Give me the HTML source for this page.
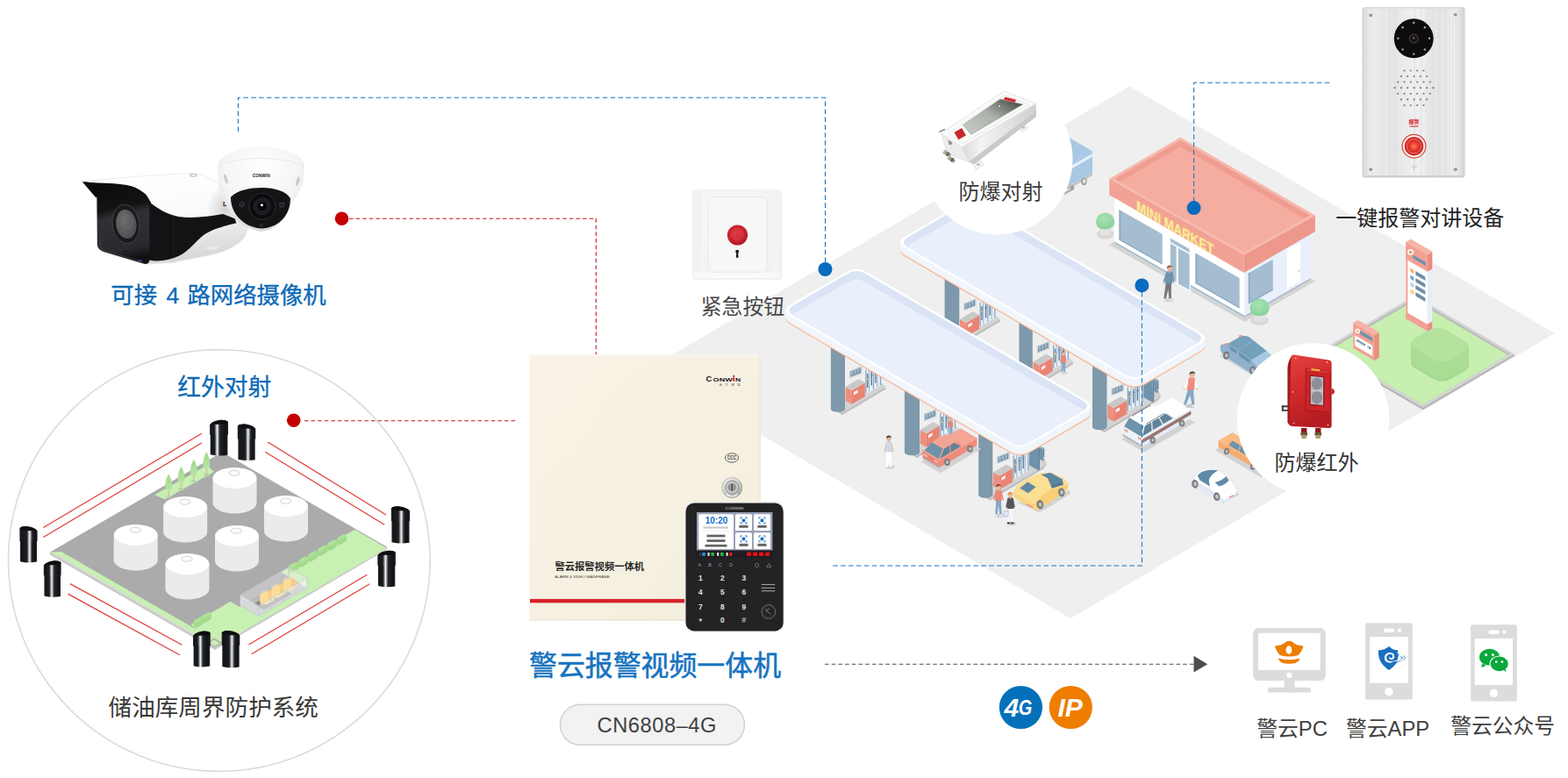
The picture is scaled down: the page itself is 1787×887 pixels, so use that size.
<!DOCTYPE html>
<html lang="zh-CN"><head><meta charset="utf-8"><title>警云报警视频一体机 CN6808-4G</title>
<style>
html,body{margin:0;padding:0;background:#fff}
body{width:1787px;height:887px;overflow:hidden;position:relative;font-family:"Liberation Sans","Noto Sans CJK SC",sans-serif}
svg{position:absolute;left:0;top:0;display:block}
svg text{font-family:"Liberation Sans","Noto Sans CJK SC",sans-serif}
</style></head><body>
<svg width="1787" height="887" viewBox="0 0 1787 887" role="img" aria-label="警云报警视频一体机"><defs><clipPath id="lawnc"><polygon points="1512.4,398 1612.4,340.1 1720.4,403.4 1621.6,461.5"/></clipPath><radialGradient id="bg1259" cx="0.45" cy="0.35" r="0.7"><stop offset="0" stop-color="#a7e3b4"/><stop offset="1" stop-color="#86cf98"/></radialGradient><clipPath id="mroof"><polygon points="1270.5,203.8 1345.3,160 1492.7,245.6 1417.7,286.9"/></clipPath><radialGradient id="bg1435" cx="0.45" cy="0.35" r="0.7"><stop offset="0" stop-color="#a7e3b4"/><stop offset="1" stop-color="#86cf98"/></radialGradient><clipPath id="cp1020"><path d="M1035.1 270.2L1095.7 234.7Q1106 228.7 1116.3 234.7L1363.9 379.6Q1374.2 385.6 1363.9 391.6L1303.3 427.1Q1293 433.1 1282.7 427.1L1035.1 282.2Q1024.8 276.2 1035.1 270.2Z"/></clipPath><clipPath id="cp889"><path d="M904.7 347.8L965.8 312Q976.1 306 986.4 312L1233.7 456.7Q1244 462.7 1233.7 468.8L1172.6 504.5Q1162.3 510.5 1152 504.5L904.7 359.8Q894.4 353.8 904.7 347.8Z"/></clipPath><linearGradient id="bw" x1="0" y1="0" x2="0.25" y2="1"><stop offset="0" stop-color="#ffffff"/><stop offset="0.55" stop-color="#fbfbfb"/><stop offset="1" stop-color="#d9d9dc"/></linearGradient><linearGradient id="bk" x1="0.1" y1="0" x2="0.25" y2="1"><stop offset="0" stop-color="#0c0c0e"/><stop offset="0.3" stop-color="#131315"/><stop offset="0.42" stop-color="#313135"/><stop offset="0.85" stop-color="#2a2a2e"/><stop offset="1" stop-color="#111113"/></linearGradient><radialGradient id="lens" cx="0.4" cy="0.35" r="0.8"><stop offset="0" stop-color="#6e6e70"/><stop offset="1" stop-color="#48484a"/></radialGradient><radialGradient id="dsh"><stop offset="0" stop-color="#000" stop-opacity="0.16"/><stop offset="1" stop-color="#000" stop-opacity="0"/></radialGradient><radialGradient id="dm" cx="0.5" cy="0.28" r="0.75"><stop offset="0" stop-color="#ffffff"/><stop offset="0.6" stop-color="#f4f4f4"/><stop offset="1" stop-color="#d4d4d6"/></radialGradient><linearGradient id="tr" x1="0" y1="0" x2="0" y2="1"><stop offset="0" stop-color="#9fd98a"/><stop offset="1" stop-color="#b7e6a3"/></linearGradient><linearGradient id="sg0" x1="0" y1="0" x2="1" y2="0"><stop offset="0" stop-color="#24272c"/><stop offset="0.08" stop-color="#141518"/><stop offset="0.41" stop-color="#1c1e22"/><stop offset="0.56" stop-color="#f2f4f6"/><stop offset="0.71" stop-color="#23262b"/><stop offset="0.85" stop-color="#101113"/><stop offset="1" stop-color="#1f2126"/></linearGradient><linearGradient id="sg1" x1="0" y1="0" x2="1" y2="0"><stop offset="0" stop-color="#24272c"/><stop offset="0.08" stop-color="#141518"/><stop offset="0.31" stop-color="#1c1e22"/><stop offset="0.46" stop-color="#f2f4f6"/><stop offset="0.61" stop-color="#23262b"/><stop offset="0.85" stop-color="#101113"/><stop offset="1" stop-color="#1f2126"/></linearGradient><linearGradient id="sg2" x1="0" y1="0" x2="1" y2="0"><stop offset="0" stop-color="#24272c"/><stop offset="0.08" stop-color="#141518"/><stop offset="0.25" stop-color="#1c1e22"/><stop offset="0.40" stop-color="#f2f4f6"/><stop offset="0.55" stop-color="#23262b"/><stop offset="0.85" stop-color="#101113"/><stop offset="1" stop-color="#1f2126"/></linearGradient><linearGradient id="sg3" x1="0" y1="0" x2="1" y2="0"><stop offset="0" stop-color="#24272c"/><stop offset="0.08" stop-color="#141518"/><stop offset="0.43" stop-color="#1c1e22"/><stop offset="0.58" stop-color="#f2f4f6"/><stop offset="0.73" stop-color="#23262b"/><stop offset="0.85" stop-color="#101113"/><stop offset="1" stop-color="#1f2126"/></linearGradient><linearGradient id="sg4" x1="0" y1="0" x2="1" y2="0"><stop offset="0" stop-color="#24272c"/><stop offset="0.08" stop-color="#141518"/><stop offset="0.39" stop-color="#1c1e22"/><stop offset="0.54" stop-color="#f2f4f6"/><stop offset="0.69" stop-color="#23262b"/><stop offset="0.85" stop-color="#101113"/><stop offset="1" stop-color="#1f2126"/></linearGradient><linearGradient id="sg5" x1="0" y1="0" x2="1" y2="0"><stop offset="0" stop-color="#24272c"/><stop offset="0.08" stop-color="#141518"/><stop offset="0.29" stop-color="#1c1e22"/><stop offset="0.44" stop-color="#f2f4f6"/><stop offset="0.59" stop-color="#23262b"/><stop offset="0.85" stop-color="#101113"/><stop offset="1" stop-color="#1f2126"/></linearGradient><linearGradient id="sg6" x1="0" y1="0" x2="1" y2="0"><stop offset="0" stop-color="#24272c"/><stop offset="0.08" stop-color="#141518"/><stop offset="0.27" stop-color="#1c1e22"/><stop offset="0.42" stop-color="#f2f4f6"/><stop offset="0.57" stop-color="#23262b"/><stop offset="0.85" stop-color="#101113"/><stop offset="1" stop-color="#1f2126"/></linearGradient><linearGradient id="sg7" x1="0" y1="0" x2="1" y2="0"><stop offset="0" stop-color="#24272c"/><stop offset="0.08" stop-color="#141518"/><stop offset="0.41" stop-color="#1c1e22"/><stop offset="0.56" stop-color="#f2f4f6"/><stop offset="0.71" stop-color="#23262b"/><stop offset="0.85" stop-color="#101113"/><stop offset="1" stop-color="#1f2126"/></linearGradient><linearGradient id="pn" x1="0" y1="0" x2="1" y2="1"><stop offset="0" stop-color="#f8f3e6"/><stop offset="1" stop-color="#f4eedd"/></linearGradient><radialGradient id="lk" cx="0.4" cy="0.35" r="0.7"><stop offset="0" stop-color="#ffffff"/><stop offset="0.6" stop-color="#d4d4d4"/><stop offset="1" stop-color="#8f8f8f"/></radialGradient><linearGradient id="eb" x1="0" y1="0" x2="1" y2="1"><stop offset="0" stop-color="#f7f7f7"/><stop offset="1" stop-color="#f0f0f0"/></linearGradient><radialGradient id="rb" cx="0.45" cy="0.4" r="0.65"><stop offset="0" stop-color="#dc3a44"/><stop offset="0.7" stop-color="#c51f2b"/><stop offset="1" stop-color="#a81622"/></radialGradient><linearGradient id="ic" x1="0" y1="0" x2="1" y2="0"><stop offset="0" stop-color="#d9d9d9"/><stop offset="0.08" stop-color="#ececec"/><stop offset="0.3" stop-color="#e4e4e4"/><stop offset="0.5" stop-color="#efefef"/><stop offset="0.72" stop-color="#e2e2e2"/><stop offset="0.92" stop-color="#ebebeb"/><stop offset="1" stop-color="#d2d2d2"/></linearGradient><radialGradient id="ib" cx="0.5" cy="0.5" r="0.5"><stop offset="0" stop-color="#ff7a5a"/><stop offset="0.45" stop-color="#e8382c"/><stop offset="0.75" stop-color="#c8201c"/><stop offset="1" stop-color="#e03a30"/></radialGradient><linearGradient id="dg" x1="0" y1="1" x2="1" y2="0"><stop offset="0" stop-color="#c9cec8"/><stop offset="0.5" stop-color="#aab2aa"/><stop offset="0.85" stop-color="#5a6258"/><stop offset="1" stop-color="#3a4038"/></linearGradient><linearGradient id="ds" x1="0" y1="0" x2="1" y2="0"><stop offset="0" stop-color="#d8d8d8"/><stop offset="0.25" stop-color="#f4f4f4"/><stop offset="1" stop-color="#cfcfcf"/></linearGradient><linearGradient id="rd" x1="0" y1="0" x2="0.3" y2="1"><stop offset="0" stop-color="#e2433f"/><stop offset="0.5" stop-color="#d12a2c"/><stop offset="1" stop-color="#b51d22"/></linearGradient></defs><g id="station">
<polygon points="740,420 1287.5,98.5 1772,380 1220,705" fill="#efefef"/>
<polygon points="1507,398 1621.6,464.6 1725.8,403.4 1725.8,406 1621.6,467.2 1507,400.6" fill="#b4b4b4"/>
<polygon points="1507,398 1612.4,337 1725.8,403.4 1621.6,464.6" fill="#d3d3d3"/>
<polygon points="1512.4,398 1612.4,340.1 1720.4,403.4 1621.6,461.5" fill="#bababa"/>
<g clip-path="url(#lawnc)">
<polygon points="1512.4,400.4 1612.4,342.5 1720.4,405.8 1621.6,463.9" fill="#c6efb0"/>
</g>
<path d="M1613.5 385.5L1627.5 377.3Q1638.5 370.8 1649.5 377.3L1668.5 388.4Q1679.5 394.8 1668.5 401.3L1654.5 409.4Q1643.5 415.9 1632.5 409.4L1613.5 398.3Q1602.5 391.9 1613.5 385.5Z" fill="#a5d98f" transform="translate(0,22)"/>
<path d="M1613.5 385.5L1627.5 377.3Q1638.5 370.8 1649.5 377.3L1668.5 388.4Q1679.5 394.8 1668.5 401.3L1654.5 409.4Q1643.5 415.9 1632.5 409.4L1613.5 398.3Q1602.5 391.9 1613.5 385.5Z" fill="#a5d98f" transform="translate(0,21)"/>
<path d="M1613.5 385.5L1627.5 377.3Q1638.5 370.8 1649.5 377.3L1668.5 388.4Q1679.5 394.8 1668.5 401.3L1654.5 409.4Q1643.5 415.9 1632.5 409.4L1613.5 398.3Q1602.5 391.9 1613.5 385.5Z" fill="#a5d98f" transform="translate(0,20)"/>
<path d="M1613.5 385.5L1627.5 377.3Q1638.5 370.8 1649.5 377.3L1668.5 388.4Q1679.5 394.8 1668.5 401.3L1654.5 409.4Q1643.5 415.9 1632.5 409.4L1613.5 398.3Q1602.5 391.9 1613.5 385.5Z" fill="#acdf96" transform="translate(0,19)"/>
<path d="M1613.5 385.5L1627.5 377.3Q1638.5 370.8 1649.5 377.3L1668.5 388.4Q1679.5 394.8 1668.5 401.3L1654.5 409.4Q1643.5 415.9 1632.5 409.4L1613.5 398.3Q1602.5 391.9 1613.5 385.5Z" fill="#a8dc92" transform="translate(0,18)"/>
<path d="M1613.5 385.5L1627.5 377.3Q1638.5 370.8 1649.5 377.3L1668.5 388.4Q1679.5 394.8 1668.5 401.3L1654.5 409.4Q1643.5 415.9 1632.5 409.4L1613.5 398.3Q1602.5 391.9 1613.5 385.5Z" fill="#acdf96" transform="translate(0,17)"/>
<path d="M1613.5 385.5L1627.5 377.3Q1638.5 370.8 1649.5 377.3L1668.5 388.4Q1679.5 394.8 1668.5 401.3L1654.5 409.4Q1643.5 415.9 1632.5 409.4L1613.5 398.3Q1602.5 391.9 1613.5 385.5Z" fill="#a8dc92" transform="translate(0,16)"/>
<path d="M1613.5 385.5L1627.5 377.3Q1638.5 370.8 1649.5 377.3L1668.5 388.4Q1679.5 394.8 1668.5 401.3L1654.5 409.4Q1643.5 415.9 1632.5 409.4L1613.5 398.3Q1602.5 391.9 1613.5 385.5Z" fill="#acdf96" transform="translate(0,15)"/>
<path d="M1613.5 385.5L1627.5 377.3Q1638.5 370.8 1649.5 377.3L1668.5 388.4Q1679.5 394.8 1668.5 401.3L1654.5 409.4Q1643.5 415.9 1632.5 409.4L1613.5 398.3Q1602.5 391.9 1613.5 385.5Z" fill="#a8dc92" transform="translate(0,14)"/>
<path d="M1613.5 385.5L1627.5 377.3Q1638.5 370.8 1649.5 377.3L1668.5 388.4Q1679.5 394.8 1668.5 401.3L1654.5 409.4Q1643.5 415.9 1632.5 409.4L1613.5 398.3Q1602.5 391.9 1613.5 385.5Z" fill="#acdf96" transform="translate(0,13)"/>
<path d="M1613.5 385.5L1627.5 377.3Q1638.5 370.8 1649.5 377.3L1668.5 388.4Q1679.5 394.8 1668.5 401.3L1654.5 409.4Q1643.5 415.9 1632.5 409.4L1613.5 398.3Q1602.5 391.9 1613.5 385.5Z" fill="#a8dc92" transform="translate(0,12)"/>
<path d="M1613.5 385.5L1627.5 377.3Q1638.5 370.8 1649.5 377.3L1668.5 388.4Q1679.5 394.8 1668.5 401.3L1654.5 409.4Q1643.5 415.9 1632.5 409.4L1613.5 398.3Q1602.5 391.9 1613.5 385.5Z" fill="#acdf96" transform="translate(0,11)"/>
<path d="M1613.5 385.5L1627.5 377.3Q1638.5 370.8 1649.5 377.3L1668.5 388.4Q1679.5 394.8 1668.5 401.3L1654.5 409.4Q1643.5 415.9 1632.5 409.4L1613.5 398.3Q1602.5 391.9 1613.5 385.5Z" fill="#a8dc92" transform="translate(0,10)"/>
<path d="M1613.5 385.5L1627.5 377.3Q1638.5 370.8 1649.5 377.3L1668.5 388.4Q1679.5 394.8 1668.5 401.3L1654.5 409.4Q1643.5 415.9 1632.5 409.4L1613.5 398.3Q1602.5 391.9 1613.5 385.5Z" fill="#acdf96" transform="translate(0,9)"/>
<path d="M1613.5 385.5L1627.5 377.3Q1638.5 370.8 1649.5 377.3L1668.5 388.4Q1679.5 394.8 1668.5 401.3L1654.5 409.4Q1643.5 415.9 1632.5 409.4L1613.5 398.3Q1602.5 391.9 1613.5 385.5Z" fill="#a8dc92" transform="translate(0,8)"/>
<path d="M1613.5 385.5L1627.5 377.3Q1638.5 370.8 1649.5 377.3L1668.5 388.4Q1679.5 394.8 1668.5 401.3L1654.5 409.4Q1643.5 415.9 1632.5 409.4L1613.5 398.3Q1602.5 391.9 1613.5 385.5Z" fill="#acdf96" transform="translate(0,7)"/>
<path d="M1613.5 385.5L1627.5 377.3Q1638.5 370.8 1649.5 377.3L1668.5 388.4Q1679.5 394.8 1668.5 401.3L1654.5 409.4Q1643.5 415.9 1632.5 409.4L1613.5 398.3Q1602.5 391.9 1613.5 385.5Z" fill="#a8dc92" transform="translate(0,6)"/>
<path d="M1613.5 385.5L1627.5 377.3Q1638.5 370.8 1649.5 377.3L1668.5 388.4Q1679.5 394.8 1668.5 401.3L1654.5 409.4Q1643.5 415.9 1632.5 409.4L1613.5 398.3Q1602.5 391.9 1613.5 385.5Z" fill="#acdf96" transform="translate(0,5)"/>
<path d="M1613.5 385.5L1627.5 377.3Q1638.5 370.8 1649.5 377.3L1668.5 388.4Q1679.5 394.8 1668.5 401.3L1654.5 409.4Q1643.5 415.9 1632.5 409.4L1613.5 398.3Q1602.5 391.9 1613.5 385.5Z" fill="#a8dc92" transform="translate(0,4)"/>
<path d="M1613.5 385.5L1627.5 377.3Q1638.5 370.8 1649.5 377.3L1668.5 388.4Q1679.5 394.8 1668.5 401.3L1654.5 409.4Q1643.5 415.9 1632.5 409.4L1613.5 398.3Q1602.5 391.9 1613.5 385.5Z" fill="#acdf96" transform="translate(0,3)"/>
<path d="M1613.5 385.5L1627.5 377.3Q1638.5 370.8 1649.5 377.3L1668.5 388.4Q1679.5 394.8 1668.5 401.3L1654.5 409.4Q1643.5 415.9 1632.5 409.4L1613.5 398.3Q1602.5 391.9 1613.5 385.5Z" fill="#a8dc92" transform="translate(0,2)"/>
<path d="M1613.5 385.5L1627.5 377.3Q1638.5 370.8 1649.5 377.3L1668.5 388.4Q1679.5 394.8 1668.5 401.3L1654.5 409.4Q1643.5 415.9 1632.5 409.4L1613.5 398.3Q1602.5 391.9 1613.5 385.5Z" fill="#acdf96" transform="translate(0,1)"/>
<path d="M1613.5 385.5L1627.5 377.3Q1638.5 370.8 1649.5 377.3L1668.5 388.4Q1679.5 394.8 1668.5 401.3L1654.5 409.4Q1643.5 415.9 1632.5 409.4L1613.5 398.3Q1602.5 391.9 1613.5 385.5Z" fill="#a8dc92" transform="translate(0,0)"/>
<path d="M1613.5 385.5L1627.5 377.3Q1638.5 370.8 1649.5 377.3L1668.5 388.4Q1679.5 394.8 1668.5 401.3L1654.5 409.4Q1643.5 415.9 1632.5 409.4L1613.5 398.3Q1602.5 391.9 1613.5 385.5Z" fill="#b3e39d"/>
<polygon points="1602.3,363.5 1626.8,377.8 1626.8,290.3 1602.3,276" fill="#ffffff"/>
<polygon points="1626.8,377.8 1632.3,374.6 1632.3,287.1 1626.8,290.3" fill="#e8eef8"/>
<polygon points="1602.3,276 1626.8,290.3 1632.3,287.1 1607.8,272.8" fill="#f7b3a7"/>
<polygon points="1602.3,363.5 1626.8,377.8 1626.8,369.8 1602.3,355.5" fill="#f3a093"/>
<polygon points="1626.8,377.8 1632.3,374.6 1632.3,366.6 1626.8,369.8" fill="#e98c80"/>
<polygon points="1602.3,295.5 1626.8,309.8 1626.8,290.3 1602.3,276" fill="#f3a093"/>
<polygon points="1626.8,309.8 1632.3,306.6 1632.3,287.1 1626.8,290.3" fill="#e98c80"/>
<polygon points="1602.3,276 1626.8,290.3 1632.3,287.1 1607.8,272.8" fill="#f7b3a7"/>
<polygon points="1602.3,363.5 1604.3,364.7 1604.3,277.2 1602.3,276" fill="#f3a093"/>
<polygon points="1610.3,290.5 1624.8,299 1624.8,303 1610.3,294.5" fill="#6f93ab"/>
<circle cx="1607.5" cy="287.6" r="3.3" fill="#fff"/>
<circle cx="1607.5" cy="287.6" r="1.7" fill="#c9923b"/>
<polygon points="1607.3,305.4 1611.3,307.8 1611.3,312.3 1607.3,309.9" fill="#f7b36b"/>
<polygon points="1613.3,308.9 1624.3,315.4 1624.3,319.9 1613.3,313.4" fill="#6f8da3"/>
<polygon points="1607.3,313.4 1611.3,315.8 1611.3,320.3 1607.3,317.9" fill="#7fa7c7"/>
<polygon points="1613.3,316.9 1624.3,323.4 1624.3,327.9 1613.3,321.4" fill="#6f8da3"/>
<polygon points="1607.3,321.4 1611.3,323.8 1611.3,328.3 1607.3,325.9" fill="#c9cfe6"/>
<polygon points="1613.3,324.9 1624.3,331.4 1624.3,335.9 1613.3,329.4" fill="#6f8da3"/>
<polygon points="1607.3,329.4 1611.3,331.8 1611.3,336.3 1607.3,333.9" fill="#f9cf7a"/>
<polygon points="1613.3,332.9 1624.3,339.4 1624.3,343.9 1613.3,337.4" fill="#6f8da3"/>
<polygon points="1542.2,397 1566.2,411 1566.2,382 1542.2,368" fill="#f3a093"/>
<polygon points="1566.2,411 1571.7,407.8 1571.7,378.8 1566.2,382" fill="#e98c80"/>
<polygon points="1542.2,368 1566.2,382 1571.7,378.8 1547.7,364.8" fill="#f7b3a7"/>
<polygon points="1544.2,382.2 1564.2,393.9 1564.2,405.9 1544.2,394.2" fill="#fff"/>
<polygon points="1550.2,376.7 1564.2,384.9 1564.2,389.4 1550.2,381.2" fill="#6f93ab"/>
<circle cx="1547.2" cy="377.4" r="2.6" fill="#fff"/>
<circle cx="1547.2" cy="377.4" r="1.2" fill="#e9a23b"/>
<g stroke="#5f7f98" stroke-width="1" fill="none">
<path d="M1546.2 387.8L1556.2 393.7" stroke-width="2.6" stroke-dasharray="1.6 0.7"/>
<path d="M1558.2 394.9L1562.2 397.2M1562.2 397.2l-1.6 -2.4M1562.2 397.2l-2.3 0.6"/>
</g>
<polygon points="1190,200.5 1217,216.3 1217,212.8 1190,197" fill="#c5c5c5"/>
<polygon points="1217,216.3 1245,199.9 1245,196.4 1217,212.8" fill="#c4c4c4"/>
<polygon points="1190,197 1217,212.8 1245,196.4 1218,180.6" fill="#d6d6d6"/>
<polygon points="1190,197 1217,212.8 1217,188.8 1190,173" fill="#9fbfdc"/>
<polygon points="1217,212.8 1245,196.4 1245,172.4 1217,188.8" fill="#a9c8e4"/>
<polygon points="1190,173 1217,188.8 1245,172.4 1218,156.6" fill="#a9c8e4"/>
<polygon points="1217,191.3 1245,174.9 1245,178.5 1217,194.9" fill="#e8f1fa"/>
<ellipse cx="1235.4" cy="206.8" rx="3.4" ry="4.4" fill="#a2a2a2"/>
<ellipse cx="1235.7" cy="206.6" rx="1.7" ry="2.5" fill="#e6e6e6"/>
<ellipse cx="1222" cy="214" rx="2.4" ry="2.8" fill="#a2a2a2"/>
<path d="M1212 220l12 -6.6v2.6l-12 6.6z" fill="#a8a8a8"/>
<ellipse cx="1259.6" cy="267" rx="10" ry="5.5" fill="#d9d9d9"/>
<path d="M1253.1 259v6a6.5 3.6 0 0 0 13 0v-6z" fill="#e3e3e3"/>
<path d="M1249.1 253a10.5 10.5 0 1 1 21 0q0 7.9 -10.5 8.4q-10.5 0 -10.5 -8.4z" fill="url(#bg1259)"/>
<polygon points="1264,279 1270,275.5 1418.6,360 1493,317 1499,320.5 1418.6,367" fill="#d4d4d4"/>
<polygon points="1270.3,222 1270.3,277.5 1418.6,362 1418.6,306" fill="#ffffff"/>
<polygon points="1418.6,306 1418.6,362 1493,319.5 1493,262" fill="#e9f0fb"/>
<polygon points="1270.3,275.5 1270.3,277.5 1418.6,362 1418.6,360" fill="#9fb8c9"/>
<polygon points="1418.6,360 1418.6,362 1493,319.5 1493,317.5" fill="#aab9c6"/>
<polygon points="1275.5,239 1324.7,267 1324.7,301.5 1275.5,273.5" fill="#a5bdd0"/>
<polygon points="1275.5,239 1277.3,240.5 1277.3,272.9 1324.7,299.9 1324.7,301.5 1275.5,273.5" fill="#8fabc2"/>
<polygon points="1362.5,288.6 1412.6,317.1 1412.6,351.6 1362.5,323.1" fill="#a5bdd0"/>
<polygon points="1362.5,288.6 1364.3,290.1 1364.3,322.5 1412.6,350 1412.6,351.6 1362.5,323.1" fill="#8fabc2"/>
<polygon points="1332.3,268.8 1357,282.9 1357,332.9 1332.3,318.8" fill="#f4f8fd"/>
<polygon points="1334,271.8 1355.5,284.1 1355.5,288.1 1334,275.8" fill="#a5bdd0"/>
<polygon points="1334,277.8 1340.5,281.5 1340.5,321.5 1334,317.8" fill="#a5bdd0"/>
<polygon points="1343,282.9 1355.5,290.1 1355.5,330.6 1343,323.4" fill="#a5bdd0"/>
<polygon points="1422.8,311.6 1450.7,295.7 1450.7,330.7 1422.8,346.6" fill="#a5bdd0"/>
<polygon points="1422.8,311.6 1424.6,310.6 1424.6,344 1450.7,329.1 1450.7,330.7 1422.8,346.6" fill="#8fabc2"/>
<polygon points="1466.8,284.5 1482,275.9 1482,320.4 1466.8,329" fill="#ffffff"/>
<circle cx="1480.5" cy="309" r="0.8" fill="#aaa"/>
<polygon points="1264.3,203.8 1417.7,290.5 1417.7,311 1264.3,222.3" fill="#f2a295"/>
<polygon points="1417.7,290.5 1498.9,245.6 1498.9,264.1 1417.7,311" fill="#ee988b"/>
<polygon points="1264.3,203.8 1345.3,156.4 1498.9,245.6 1417.7,290.5" fill="#f7b8ac"/>
<polygon points="1270.5,203.8 1345.3,160 1492.7,245.6 1417.7,286.9" fill="#ef9d90"/>
<g clip-path="url(#mroof)">
<polygon points="1270.5,211.1 1345.3,167.3 1492.7,252.9 1417.7,294.2" fill="#f5ada0"/>
</g>
<g transform="matrix(1 0.578 0 1 1295 240.6)"><text x="0" y="0" font-family="Liberation Sans, sans-serif" font-weight="bold" font-size="17.6" fill="#efc464" textLength="88" lengthAdjust="spacingAndGlyphs" transform="translate(0.9,-0.9)">MINI MARKET</text><text x="0" y="0" font-family="Liberation Sans, sans-serif" font-weight="bold" font-size="17.6" fill="#fde9a4" textLength="88" lengthAdjust="spacingAndGlyphs">MINI MARKET</text></g>
<ellipse cx="1435.5" cy="365.5" rx="10.4" ry="5.7" fill="#d9d9d9"/>
<path d="M1428.7 357.5v6a6.8 3.7 0 0 0 13.6 0v-6z" fill="#e3e3e3"/>
<path d="M1424.5 351.5a11 11 0 1 1 22 0q0 8.2 -11 8.8q-11 0 -11 -8.8z" fill="url(#bg1435)"/>
<ellipse cx="1331.8" cy="341.9" rx="5.5" ry="2.2" fill="#cdcdcd"/>
<g transform="translate(1330.5 341.5) scale(1.1) skewX(-4)">
<path d="M-2.8 -17L-4 0h2.4L0 -11L1.6 0h2.4L2.8 -17z" fill="#77777b"/>
<path d="M-4.4 -0.9h3.2v1.6h-3.2zM1.4 -0.9h3.2v1.6h-3.2z" fill="#f4f4f4"/>
<path d="M-3.3 -28.2l-2.6 10l1.4 0.5l2.2 -6.5zM3.3 -28.2l2.6 10l-1.4 0.5l-2.2 -6.5z" fill="#6f93ab"/>
<circle cx="-5.3" cy="-17.6" r="0.9" fill="#e8b89a"/><circle cx="5.3" cy="-17.6" r="0.9" fill="#e8b89a"/>
<path d="M-3.3 -28.6q3.3 -1.7 6.6 0l0.5 12.2h-7.6z" fill="#6f93ab"/>
<path d="M-1 -30h2v2h-2z" fill="#e8b89a"/>
<circle cx="0" cy="-32.2" r="2.8" fill="#e8b89a"/>
<path d="M-3 -32.4a3 3 0 0 1 6 0q-0.4 -1.2 -1.6 -1.4q-2.2 0.8 -4.4 1.4z" fill="#8a6a52"/>
</g>
<polygon points="1390.3,406.1 1426.4,427.5 1433.1,423 1395.9,402.7" fill="#d4d4d4"/>
<path d="M1390.9 393.1L1399.9 391.6L1410.6 399.1L1426.4 410.4L1433.1 417.4L1431.4 423L1426.4 426L1394.2 405.2L1390.9 399.5Z" fill="#8eb1cc"/>
<path d="M1399.5 391.8L1414.2 383.3C1418.5 382.6 1421.9 383.3 1424.1 384.4L1443.8 400.2L1426.4 410.6L1410.6 399.3Z" fill="#74a0bc"/>
<path d="M1411.9 398.2L1428.6 388" fill="none" stroke="#a9c9e3" stroke-width="0.5"/>
<polygon points="1426.4,410.6 1443.8,400.2 1449.5,405.2 1433.1,417.4" fill="#a9c9e3"/>
<polygon points="1400.2,394.1 1409.5,399.5 1409.7,403.6 1402.7,399.5" fill="#6a93ad"/>
<polygon points="1411.9,401.1 1425.2,410.6 1423.9,413.7 1412.2,405.9" fill="#6a93ad"/>
<polygon points="1395.7,391.6 1399.5,391 1400,393 1396.2,393.7" fill="#f09080"/>
<polygon points="1411.7,382.6 1415.7,382 1416.2,383.8 1412.4,384.4" fill="#f09080"/>
<g transform="rotate(8 1397.6 405.2)">
<ellipse cx="1397.6" cy="405.2" rx="3.4" ry="4.6" fill="#7c7c80"/>
<ellipse cx="1397.8" cy="405.2" rx="1.7" ry="2.3" fill="#c2c2c4"/>
</g>
<g transform="rotate(8 1427.5 422.1)">
<ellipse cx="1427.5" cy="422.1" rx="3.4" ry="4.6" fill="#7c7c80"/>
<ellipse cx="1427.7" cy="422.1" rx="1.7" ry="2.3" fill="#c2c2c4"/>
</g>
<polygon points="1077.3,387.7 1090.3,396 1140.3,366.2 1129.3,357.7" fill="#bcbcbc"/>
<polygon points="1077.3,385.5 1090.3,393.8 1140.3,364 1129.3,355.5" fill="#d3d3d3"/>
<polygon points="1116.6,343.9 1134.6,338.4 1134.6,362 1116.6,372.4" fill="#e6eef9"/>
<line x1="1117.2" y1="344.7" x2="1117.2" y2="371.6" stroke="#86a2b6" stroke-width="1.2"/>
<line x1="1120.8" y1="343.6" x2="1120.8" y2="369.5" stroke="#86a2b6" stroke-width="0.8"/>
<line x1="1125.8" y1="342.1" x2="1125.8" y2="366.6" stroke="#86a2b6" stroke-width="1.2"/>
<line x1="1130.2" y1="340.7" x2="1130.2" y2="364" stroke="#86a2b6" stroke-width="0.8"/>
<line x1="1133.8" y1="339.6" x2="1133.8" y2="362" stroke="#86a2b6" stroke-width="1.2"/>
<line x1="1119" y1="349" x2="1119" y2="365" stroke="#5f7f98" stroke-width="1.4"/>
<line x1="1117.8" y1="354" x2="1120.6" y2="353" stroke="#5f7f98" stroke-width="0.9"/>
<line x1="1123.6" y1="346.4" x2="1123.6" y2="362.4" stroke="#5f7f98" stroke-width="1.4"/>
<line x1="1122.4" y1="351.4" x2="1125.2" y2="350.4" stroke="#5f7f98" stroke-width="0.9"/>
<line x1="1128.2" y1="343.7" x2="1128.2" y2="359.7" stroke="#5f7f98" stroke-width="1.4"/>
<line x1="1127" y1="348.7" x2="1129.8" y2="347.7" stroke="#5f7f98" stroke-width="0.9"/>
<line x1="1119" y1="353.4" x2="1119" y2="356" stroke="#f2c661" stroke-width="1.1"/>
<polygon points="1093.9,379.5 1101.1,383.7 1101.1,368.1 1093.9,363.9" fill="#ee8f7f"/>
<polygon points="1101.1,383.7 1116.1,374.9 1116.1,359.3 1101.1,368.1" fill="#e98474"/>
<polygon points="1093.9,363.9 1101.1,368.1 1116.1,359.3 1108.9,355.1" fill="#c9c9c9"/>
<polygon points="1103.3,370 1107.9,367.3 1107.9,370.7 1103.3,373.4" fill="#fdf1ee"/>
<polygon points="1098.9,346.3 1111.9,341.2 1111.9,348.5 1098.9,353.6" fill="#7d99ab" stroke="#c6d2dc" stroke-width="1.3" stroke-linejoin="round"/>
<line x1="1101.5" y1="346.7" x2="1101.5" y2="350.3" stroke="#a9c0d0" stroke-width="1.7"/>
<line x1="1104.9" y1="345.4" x2="1104.9" y2="349" stroke="#a9c0d0" stroke-width="1.7"/>
<line x1="1108.3" y1="344" x2="1108.3" y2="347.6" stroke="#a9c0d0" stroke-width="1.7"/>
<path d="M1076.6 315V390a8.4 3.2 0 0 0 16.7 0V315z" fill="#7d99ab"/>
<polygon points="1160.8,436.2 1173.8,444.5 1223.8,414.7 1212.8,406.2" fill="#bcbcbc"/>
<polygon points="1160.8,434 1173.8,442.3 1223.8,412.5 1212.8,404" fill="#d3d3d3"/>
<polygon points="1200.1,392.4 1218.1,386.9 1218.1,410.5 1200.1,420.9" fill="#e6eef9"/>
<line x1="1200.7" y1="393.2" x2="1200.7" y2="420.1" stroke="#86a2b6" stroke-width="1.2"/>
<line x1="1204.3" y1="392.1" x2="1204.3" y2="418" stroke="#86a2b6" stroke-width="0.8"/>
<line x1="1209.3" y1="390.6" x2="1209.3" y2="415.1" stroke="#86a2b6" stroke-width="1.2"/>
<line x1="1213.7" y1="389.2" x2="1213.7" y2="412.5" stroke="#86a2b6" stroke-width="0.8"/>
<line x1="1217.3" y1="388.1" x2="1217.3" y2="410.5" stroke="#86a2b6" stroke-width="1.2"/>
<line x1="1202.5" y1="397.5" x2="1202.5" y2="413.5" stroke="#5f7f98" stroke-width="1.4"/>
<line x1="1201.3" y1="402.5" x2="1204.1" y2="401.5" stroke="#5f7f98" stroke-width="0.9"/>
<line x1="1207.1" y1="394.9" x2="1207.1" y2="410.9" stroke="#5f7f98" stroke-width="1.4"/>
<line x1="1205.9" y1="399.9" x2="1208.7" y2="398.9" stroke="#5f7f98" stroke-width="0.9"/>
<line x1="1211.7" y1="392.2" x2="1211.7" y2="408.2" stroke="#5f7f98" stroke-width="1.4"/>
<line x1="1210.5" y1="397.2" x2="1213.3" y2="396.2" stroke="#5f7f98" stroke-width="0.9"/>
<line x1="1202.5" y1="401.9" x2="1202.5" y2="404.5" stroke="#f2c661" stroke-width="1.1"/>
<polygon points="1177.4,428 1184.6,432.2 1184.6,416.6 1177.4,412.4" fill="#ee8f7f"/>
<polygon points="1184.6,432.2 1199.6,423.4 1199.6,407.8 1184.6,416.6" fill="#e98474"/>
<polygon points="1177.4,412.4 1184.6,416.6 1199.6,407.8 1192.4,403.6" fill="#c9c9c9"/>
<polygon points="1186.8,418.5 1191.4,415.8 1191.4,419.2 1186.8,421.9" fill="#fdf1ee"/>
<polygon points="1182.4,394.8 1195.4,389.7 1195.4,397 1182.4,402.1" fill="#7d99ab" stroke="#c6d2dc" stroke-width="1.3" stroke-linejoin="round"/>
<line x1="1185" y1="395.2" x2="1185" y2="398.8" stroke="#a9c0d0" stroke-width="1.7"/>
<line x1="1188.4" y1="393.9" x2="1188.4" y2="397.5" stroke="#a9c0d0" stroke-width="1.7"/>
<line x1="1191.8" y1="392.5" x2="1191.8" y2="396.1" stroke="#a9c0d0" stroke-width="1.7"/>
<path d="M1161.4 363.5V438.5a7.7 3.2 0 0 0 15.4 0V363.5z" fill="#7d99ab"/>
<polygon points="1245.5,484.7 1258.5,493 1319.5,456.7 1323,451.7 1319.5,447.7 1307.5,448.2" fill="#bcbcbc"/>
<polygon points="1245.5,482.5 1258.5,490.8 1319.5,454.5 1323,449.5 1319.5,445.5 1307.5,446" fill="#d3d3d3"/>
<polygon points="1284.8,440.9 1302.8,435.4 1302.8,459 1284.8,469.4" fill="#e6eef9"/>
<line x1="1285.4" y1="441.7" x2="1285.4" y2="468.6" stroke="#86a2b6" stroke-width="1.2"/>
<line x1="1289" y1="440.6" x2="1289" y2="466.5" stroke="#86a2b6" stroke-width="0.8"/>
<line x1="1294" y1="439.1" x2="1294" y2="463.6" stroke="#86a2b6" stroke-width="1.2"/>
<line x1="1298.4" y1="437.7" x2="1298.4" y2="461" stroke="#86a2b6" stroke-width="0.8"/>
<line x1="1302" y1="436.6" x2="1302" y2="459" stroke="#86a2b6" stroke-width="1.2"/>
<line x1="1287.2" y1="446" x2="1287.2" y2="462" stroke="#5f7f98" stroke-width="1.4"/>
<line x1="1286" y1="451" x2="1288.8" y2="450" stroke="#5f7f98" stroke-width="0.9"/>
<line x1="1291.8" y1="443.4" x2="1291.8" y2="459.4" stroke="#5f7f98" stroke-width="1.4"/>
<line x1="1290.6" y1="448.4" x2="1293.4" y2="447.4" stroke="#5f7f98" stroke-width="0.9"/>
<line x1="1296.4" y1="440.7" x2="1296.4" y2="456.7" stroke="#5f7f98" stroke-width="1.4"/>
<line x1="1295.2" y1="445.7" x2="1298" y2="444.7" stroke="#5f7f98" stroke-width="0.9"/>
<line x1="1287.2" y1="450.4" x2="1287.2" y2="453" stroke="#f2c661" stroke-width="1.1"/>
<polygon points="1262.1,476.5 1269.3,480.7 1269.3,465.1 1262.1,460.9" fill="#ee8f7f"/>
<polygon points="1269.3,480.7 1284.3,471.9 1284.3,456.3 1269.3,465.1" fill="#e98474"/>
<polygon points="1262.1,460.9 1269.3,465.1 1284.3,456.3 1277.1,452.1" fill="#c9c9c9"/>
<polygon points="1271.5,467 1276.1,464.3 1276.1,467.7 1271.5,470.4" fill="#fdf1ee"/>
<polygon points="1267.1,443.3 1280.1,438.2 1280.1,445.5 1267.1,450.6" fill="#7d99ab" stroke="#c6d2dc" stroke-width="1.3" stroke-linejoin="round"/>
<line x1="1269.7" y1="443.7" x2="1269.7" y2="447.3" stroke="#a9c0d0" stroke-width="1.7"/>
<line x1="1273.1" y1="442.4" x2="1273.1" y2="446" stroke="#a9c0d0" stroke-width="1.7"/>
<line x1="1276.5" y1="441" x2="1276.5" y2="444.6" stroke="#a9c0d0" stroke-width="1.7"/>
<polygon points="1303.2,452.8 1313.4,458.8 1313.4,433.3 1303.2,427.3" fill="#6f93ab"/>
<polygon points="1313.4,458.8 1315.2,457.7 1315.2,432.2 1313.4,433.3" fill="#5f8399"/>
<polygon points="1303.2,427.3 1313.4,433.3 1315.2,432.2 1305,426.2" fill="#8fabc0"/>
<polygon points="1315.2,445.9 1318.8,448 1318.8,434.5 1315.2,432.4" fill="#6f93ab"/>
<polygon points="1318.8,448 1320.4,447.1 1320.4,433.6 1318.8,434.5" fill="#5f8399"/>
<polygon points="1315.2,432.4 1318.8,434.5 1320.4,433.6 1316.8,431.5" fill="#8fabc0"/>
<rect x="1319.4" y="443.8" width="1.4" height="2.4" fill="#dfe8f2"/>
<path d="M1245 412V487a8.2 3.2 0 0 0 16.5 0V412z" fill="#7d99ab"/>
<ellipse cx="1212.9" cy="425.3" rx="3.8" ry="1.5" fill="#cdcdcd"/>
<g transform="translate(1212 425) scale(0.7) skewX(0)">
<path d="M-2.8 -17L-3.2 0h2.4L0 -11L0.8 0h2.4L2.8 -17z" fill="#86a6c4"/>
<path d="M-3.6 -0.9h3.2v1.6h-3.2zM0.6 -0.9h3.2v1.6h-3.2z" fill="#f4f4f4"/>
<path d="M-3.3 -28.2l-2 10l1.4 0.5l1.6 -6.5zM3.3 -28.2l2 10l-1.4 0.5l-1.6 -6.5z" fill="#e8877a"/>
<circle cx="-4.7" cy="-17.6" r="0.9" fill="#e8b89a"/><circle cx="4.7" cy="-17.6" r="0.9" fill="#e8b89a"/>
<path d="M-3.3 -28.6q3.3 -1.7 6.6 0l0.5 12.2h-7.6z" fill="#e8877a"/>
<path d="M-1 -30h2v2h-2z" fill="#e8b89a"/>
<circle cx="0" cy="-32.2" r="2.8" fill="#e8b89a"/>
<path d="M-3 -32.4a3 3 0 0 1 6 0q-0.4 -1.2 -1.6 -1.4q-2.2 0.8 -4.4 1.4z" fill="#c0504a"/>
</g>
<path d="M1032 269.2L1094 232.9Q1106 225.9 1118 232.9L1367 378.6Q1379 385.6 1367 392.6L1305 428.9Q1293 435.9 1281 428.9L1032 283.2Q1020 276.2 1032 269.2Z" fill="#f1a697" transform="translate(0,9.5)"/>
<path d="M1032 269.2L1094 232.9Q1106 225.9 1118 232.9L1367 378.6Q1379 385.6 1367 392.6L1305 428.9Q1293 435.9 1281 428.9L1032 283.2Q1020 276.2 1032 269.2Z" fill="#fbe5c3" transform="translate(0,8.6)"/>
<path d="M1032 269.2L1094 232.9Q1106 225.9 1118 232.9L1367 378.6Q1379 385.6 1367 392.6L1305 428.9Q1293 435.9 1281 428.9L1032 283.2Q1020 276.2 1032 269.2Z" fill="#f1f5fc" transform="translate(0,7.5)"/>
<path d="M1032 269.2L1094 232.9Q1106 225.9 1118 232.9L1367 378.6Q1379 385.6 1367 392.6L1305 428.9Q1293 435.9 1281 428.9L1032 283.2Q1020 276.2 1032 269.2Z" fill="#f1f5fc" transform="translate(0,6.6)"/>
<path d="M1032 269.2L1094 232.9Q1106 225.9 1118 232.9L1367 378.6Q1379 385.6 1367 392.6L1305 428.9Q1293 435.9 1281 428.9L1032 283.2Q1020 276.2 1032 269.2Z" fill="#f1f5fc" transform="translate(0,5.6)"/>
<path d="M1032 269.2L1094 232.9Q1106 225.9 1118 232.9L1367 378.6Q1379 385.6 1367 392.6L1305 428.9Q1293 435.9 1281 428.9L1032 283.2Q1020 276.2 1032 269.2Z" fill="#f1f5fc" transform="translate(0,4.6)"/>
<path d="M1032 269.2L1094 232.9Q1106 225.9 1118 232.9L1367 378.6Q1379 385.6 1367 392.6L1305 428.9Q1293 435.9 1281 428.9L1032 283.2Q1020 276.2 1032 269.2Z" fill="#f1f5fc" transform="translate(0,3.6)"/>
<path d="M1032 269.2L1094 232.9Q1106 225.9 1118 232.9L1367 378.6Q1379 385.6 1367 392.6L1305 428.9Q1293 435.9 1281 428.9L1032 283.2Q1020 276.2 1032 269.2Z" fill="#f1f5fc" transform="translate(0,2.7)"/>
<path d="M1032 269.2L1094 232.9Q1106 225.9 1118 232.9L1367 378.6Q1379 385.6 1367 392.6L1305 428.9Q1293 435.9 1281 428.9L1032 283.2Q1020 276.2 1032 269.2Z" fill="#f1f5fc" transform="translate(0,1.8)"/>
<path d="M1032 269.2L1094 232.9Q1106 225.9 1118 232.9L1367 378.6Q1379 385.6 1367 392.6L1305 428.9Q1293 435.9 1281 428.9L1032 283.2Q1020 276.2 1032 269.2Z" fill="#f1f5fc" transform="translate(0,0.9)"/>
<path d="M1032 269.2L1094 232.9Q1106 225.9 1118 232.9L1367 378.6Q1379 385.6 1367 392.6L1305 428.9Q1293 435.9 1281 428.9L1032 283.2Q1020 276.2 1032 269.2Z" fill="#ffffff"/>
<path d="M1035.1 270.2L1095.7 234.7Q1106 228.7 1116.3 234.7L1363.9 379.6Q1374.2 385.6 1363.9 391.6L1303.3 427.1Q1293 433.1 1282.7 427.1L1035.1 282.2Q1024.8 276.2 1035.1 270.2Z" fill="#dae4f5"/>
<g clip-path="url(#cp1020)">
<path d="M1035.1 270.2L1095.7 234.7Q1106 228.7 1116.3 234.7L1363.9 379.6Q1374.2 385.6 1363.9 391.6L1303.3 427.1Q1293 433.1 1282.7 427.1L1035.1 282.2Q1024.8 276.2 1035.1 270.2Z" fill="#e9f0fb" transform="translate(0,9.8)"/>
</g>
<polygon points="947,464.7 960,473 1010,443.2 999,434.7" fill="#bcbcbc"/>
<polygon points="947,462.5 960,470.8 1010,441 999,432.5" fill="#d3d3d3"/>
<polygon points="986.3,420.9 1004.3,415.4 1004.3,439 986.3,449.4" fill="#e6eef9"/>
<line x1="986.9" y1="421.7" x2="986.9" y2="448.6" stroke="#86a2b6" stroke-width="1.2"/>
<line x1="990.5" y1="420.6" x2="990.5" y2="446.5" stroke="#86a2b6" stroke-width="0.8"/>
<line x1="995.5" y1="419.1" x2="995.5" y2="443.6" stroke="#86a2b6" stroke-width="1.2"/>
<line x1="999.9" y1="417.7" x2="999.9" y2="441" stroke="#86a2b6" stroke-width="0.8"/>
<line x1="1003.5" y1="416.6" x2="1003.5" y2="439" stroke="#86a2b6" stroke-width="1.2"/>
<line x1="988.7" y1="426" x2="988.7" y2="442" stroke="#5f7f98" stroke-width="1.4"/>
<line x1="987.5" y1="431" x2="990.3" y2="430" stroke="#5f7f98" stroke-width="0.9"/>
<line x1="993.3" y1="423.4" x2="993.3" y2="439.4" stroke="#5f7f98" stroke-width="1.4"/>
<line x1="992.1" y1="428.4" x2="994.9" y2="427.4" stroke="#5f7f98" stroke-width="0.9"/>
<line x1="997.9" y1="420.7" x2="997.9" y2="436.7" stroke="#5f7f98" stroke-width="1.4"/>
<line x1="996.7" y1="425.7" x2="999.5" y2="424.7" stroke="#5f7f98" stroke-width="0.9"/>
<line x1="988.7" y1="430.4" x2="988.7" y2="433" stroke="#f2c661" stroke-width="1.1"/>
<polygon points="963.6,456.5 970.8,460.7 970.8,445.1 963.6,440.9" fill="#ee8f7f"/>
<polygon points="970.8,460.7 985.8,451.9 985.8,436.3 970.8,445.1" fill="#e98474"/>
<polygon points="963.6,440.9 970.8,445.1 985.8,436.3 978.6,432.1" fill="#c9c9c9"/>
<polygon points="973,447 977.6,444.3 977.6,447.7 973,450.4" fill="#fdf1ee"/>
<polygon points="968.6,423.3 981.6,418.2 981.6,425.5 968.6,430.6" fill="#7d99ab" stroke="#c6d2dc" stroke-width="1.3" stroke-linejoin="round"/>
<line x1="971.2" y1="423.7" x2="971.2" y2="427.3" stroke="#a9c0d0" stroke-width="1.7"/>
<line x1="974.6" y1="422.4" x2="974.6" y2="426" stroke="#a9c0d0" stroke-width="1.7"/>
<line x1="978" y1="421" x2="978" y2="424.6" stroke="#a9c0d0" stroke-width="1.7"/>
<path d="M946.9 392V467a8.1 3.2 0 0 0 16.1 0V392z" fill="#7d99ab"/>
<polygon points="1032,513.7 1045,522 1095,492.2 1084,483.7" fill="#bcbcbc"/>
<polygon points="1032,511.5 1045,519.8 1095,490 1084,481.5" fill="#d3d3d3"/>
<polygon points="1071.3,469.9 1089.3,464.4 1089.3,488 1071.3,498.4" fill="#e6eef9"/>
<line x1="1071.9" y1="470.7" x2="1071.9" y2="497.6" stroke="#86a2b6" stroke-width="1.2"/>
<line x1="1075.5" y1="469.6" x2="1075.5" y2="495.5" stroke="#86a2b6" stroke-width="0.8"/>
<line x1="1080.5" y1="468.1" x2="1080.5" y2="492.6" stroke="#86a2b6" stroke-width="1.2"/>
<line x1="1084.9" y1="466.7" x2="1084.9" y2="490" stroke="#86a2b6" stroke-width="0.8"/>
<line x1="1088.5" y1="465.6" x2="1088.5" y2="488" stroke="#86a2b6" stroke-width="1.2"/>
<line x1="1073.7" y1="475" x2="1073.7" y2="491" stroke="#5f7f98" stroke-width="1.4"/>
<line x1="1072.5" y1="480" x2="1075.3" y2="479" stroke="#5f7f98" stroke-width="0.9"/>
<line x1="1078.3" y1="472.4" x2="1078.3" y2="488.4" stroke="#5f7f98" stroke-width="1.4"/>
<line x1="1077.1" y1="477.4" x2="1079.9" y2="476.4" stroke="#5f7f98" stroke-width="0.9"/>
<line x1="1082.9" y1="469.7" x2="1082.9" y2="485.7" stroke="#5f7f98" stroke-width="1.4"/>
<line x1="1081.7" y1="474.7" x2="1084.5" y2="473.7" stroke="#5f7f98" stroke-width="0.9"/>
<line x1="1073.7" y1="479.4" x2="1073.7" y2="482" stroke="#f2c661" stroke-width="1.1"/>
<polygon points="1048.6,505.5 1055.8,509.7 1055.8,494.1 1048.6,489.9" fill="#ee8f7f"/>
<polygon points="1055.8,509.7 1070.8,500.9 1070.8,485.3 1055.8,494.1" fill="#e98474"/>
<polygon points="1048.6,489.9 1055.8,494.1 1070.8,485.3 1063.6,481.1" fill="#c9c9c9"/>
<polygon points="1058,496 1062.6,493.3 1062.6,496.7 1058,499.4" fill="#fdf1ee"/>
<polygon points="1053.6,472.3 1066.6,467.2 1066.6,474.5 1053.6,479.6" fill="#7d99ab" stroke="#c6d2dc" stroke-width="1.3" stroke-linejoin="round"/>
<line x1="1056.2" y1="472.7" x2="1056.2" y2="476.3" stroke="#a9c0d0" stroke-width="1.7"/>
<line x1="1059.6" y1="471.4" x2="1059.6" y2="475" stroke="#a9c0d0" stroke-width="1.7"/>
<line x1="1063" y1="470" x2="1063" y2="473.6" stroke="#a9c0d0" stroke-width="1.7"/>
<path d="M1030.9 441V516a8.5 3.2 0 0 0 17.1 0V441z" fill="#7d99ab"/>
<polygon points="1115.3,562.2 1128.3,570.5 1189.3,534.2 1192.8,529.2 1189.3,525.2 1177.3,525.7" fill="#bcbcbc"/>
<polygon points="1115.3,560 1128.3,568.3 1189.3,532 1192.8,527 1189.3,523 1177.3,523.5" fill="#d3d3d3"/>
<polygon points="1154.6,518.4 1172.6,512.9 1172.6,536.5 1154.6,546.9" fill="#e6eef9"/>
<line x1="1155.2" y1="519.2" x2="1155.2" y2="546.1" stroke="#86a2b6" stroke-width="1.2"/>
<line x1="1158.8" y1="518.1" x2="1158.8" y2="544" stroke="#86a2b6" stroke-width="0.8"/>
<line x1="1163.8" y1="516.6" x2="1163.8" y2="541.1" stroke="#86a2b6" stroke-width="1.2"/>
<line x1="1168.2" y1="515.2" x2="1168.2" y2="538.5" stroke="#86a2b6" stroke-width="0.8"/>
<line x1="1171.8" y1="514.1" x2="1171.8" y2="536.5" stroke="#86a2b6" stroke-width="1.2"/>
<line x1="1157" y1="523.5" x2="1157" y2="539.5" stroke="#5f7f98" stroke-width="1.4"/>
<line x1="1155.8" y1="528.5" x2="1158.6" y2="527.5" stroke="#5f7f98" stroke-width="0.9"/>
<line x1="1161.6" y1="520.9" x2="1161.6" y2="536.9" stroke="#5f7f98" stroke-width="1.4"/>
<line x1="1160.4" y1="525.9" x2="1163.2" y2="524.9" stroke="#5f7f98" stroke-width="0.9"/>
<line x1="1166.2" y1="518.2" x2="1166.2" y2="534.2" stroke="#5f7f98" stroke-width="1.4"/>
<line x1="1165" y1="523.2" x2="1167.8" y2="522.2" stroke="#5f7f98" stroke-width="0.9"/>
<line x1="1157" y1="527.9" x2="1157" y2="530.5" stroke="#f2c661" stroke-width="1.1"/>
<polygon points="1131.9,554 1139.1,558.2 1139.1,542.6 1131.9,538.4" fill="#ee8f7f"/>
<polygon points="1139.1,558.2 1154.1,549.4 1154.1,533.8 1139.1,542.6" fill="#e98474"/>
<polygon points="1131.9,538.4 1139.1,542.6 1154.1,533.8 1146.9,529.6" fill="#c9c9c9"/>
<polygon points="1141.3,544.5 1145.9,541.8 1145.9,545.2 1141.3,547.9" fill="#fdf1ee"/>
<polygon points="1136.9,520.8 1149.9,515.7 1149.9,523 1136.9,528.1" fill="#7d99ab" stroke="#c6d2dc" stroke-width="1.3" stroke-linejoin="round"/>
<line x1="1139.5" y1="521.2" x2="1139.5" y2="524.8" stroke="#a9c0d0" stroke-width="1.7"/>
<line x1="1142.9" y1="519.9" x2="1142.9" y2="523.5" stroke="#a9c0d0" stroke-width="1.7"/>
<line x1="1146.3" y1="518.5" x2="1146.3" y2="522.1" stroke="#a9c0d0" stroke-width="1.7"/>
<polygon points="1173,530.3 1183.2,536.3 1183.2,510.8 1173,504.8" fill="#6f93ab"/>
<polygon points="1183.2,536.3 1185,535.2 1185,509.7 1183.2,510.8" fill="#5f8399"/>
<polygon points="1173,504.8 1183.2,510.8 1185,509.7 1174.8,503.7" fill="#8fabc0"/>
<polygon points="1185,523.4 1188.6,525.5 1188.6,512 1185,509.9" fill="#6f93ab"/>
<polygon points="1188.6,525.5 1190.2,524.6 1190.2,511.1 1188.6,512" fill="#5f8399"/>
<polygon points="1185,509.9 1188.6,512 1190.2,511.1 1186.6,509" fill="#8fabc0"/>
<rect x="1189.2" y="521.3" width="1.4" height="2.4" fill="#dfe8f2"/>
<path d="M1115.2 489.5V564.5a8 3.2 0 0 0 16.1 0V489.5z" fill="#7d99ab"/>
<g transform="translate(1083.5 497) scale(0.6) skewX(0)">
<path d="M-2.8 -17L-3.2 0h2.4L0 -11L0.8 0h2.4L2.8 -17z" fill="#86a6c4"/>
<path d="M-3.6 -0.9h3.2v1.6h-3.2zM0.6 -0.9h3.2v1.6h-3.2z" fill="#f4f4f4"/>
<path d="M-3.3 -28.2l-2 10l1.4 0.5l1.6 -6.5zM3.3 -28.2l2 10l-1.4 0.5l-1.6 -6.5z" fill="#e8877a"/>
<circle cx="-4.7" cy="-17.6" r="0.9" fill="#e8b89a"/><circle cx="4.7" cy="-17.6" r="0.9" fill="#e8b89a"/>
<path d="M-3.3 -28.6q3.3 -1.7 6.6 0l0.5 12.2h-7.6z" fill="#e8877a"/>
<path d="M-1 -30h2v2h-2z" fill="#e8b89a"/>
<circle cx="0" cy="-32.2" r="2.8" fill="#e8b89a"/>
<path d="M-3 -32.4a3 3 0 0 1 6 0q-0.4 -1.2 -1.6 -1.4q-2.2 0.8 -4.4 1.4z" fill="#c0504a"/>
</g>
<path d="M901.6 346.8L964.1 310.2Q976.1 303.2 988.1 310.2L1236.8 455.7Q1248.8 462.7 1236.8 469.7L1174.3 506.3Q1162.3 513.3 1150.3 506.3L901.6 360.8Q889.6 353.8 901.6 346.8Z" fill="#f1a697" transform="translate(0,9.5)"/>
<path d="M901.6 346.8L964.1 310.2Q976.1 303.2 988.1 310.2L1236.8 455.7Q1248.8 462.7 1236.8 469.7L1174.3 506.3Q1162.3 513.3 1150.3 506.3L901.6 360.8Q889.6 353.8 901.6 346.8Z" fill="#fbe5c3" transform="translate(0,8.6)"/>
<path d="M901.6 346.8L964.1 310.2Q976.1 303.2 988.1 310.2L1236.8 455.7Q1248.8 462.7 1236.8 469.7L1174.3 506.3Q1162.3 513.3 1150.3 506.3L901.6 360.8Q889.6 353.8 901.6 346.8Z" fill="#f1f5fc" transform="translate(0,7.5)"/>
<path d="M901.6 346.8L964.1 310.2Q976.1 303.2 988.1 310.2L1236.8 455.7Q1248.8 462.7 1236.8 469.7L1174.3 506.3Q1162.3 513.3 1150.3 506.3L901.6 360.8Q889.6 353.8 901.6 346.8Z" fill="#f1f5fc" transform="translate(0,6.6)"/>
<path d="M901.6 346.8L964.1 310.2Q976.1 303.2 988.1 310.2L1236.8 455.7Q1248.8 462.7 1236.8 469.7L1174.3 506.3Q1162.3 513.3 1150.3 506.3L901.6 360.8Q889.6 353.8 901.6 346.8Z" fill="#f1f5fc" transform="translate(0,5.6)"/>
<path d="M901.6 346.8L964.1 310.2Q976.1 303.2 988.1 310.2L1236.8 455.7Q1248.8 462.7 1236.8 469.7L1174.3 506.3Q1162.3 513.3 1150.3 506.3L901.6 360.8Q889.6 353.8 901.6 346.8Z" fill="#f1f5fc" transform="translate(0,4.6)"/>
<path d="M901.6 346.8L964.1 310.2Q976.1 303.2 988.1 310.2L1236.8 455.7Q1248.8 462.7 1236.8 469.7L1174.3 506.3Q1162.3 513.3 1150.3 506.3L901.6 360.8Q889.6 353.8 901.6 346.8Z" fill="#f1f5fc" transform="translate(0,3.6)"/>
<path d="M901.6 346.8L964.1 310.2Q976.1 303.2 988.1 310.2L1236.8 455.7Q1248.8 462.7 1236.8 469.7L1174.3 506.3Q1162.3 513.3 1150.3 506.3L901.6 360.8Q889.6 353.8 901.6 346.8Z" fill="#f1f5fc" transform="translate(0,2.7)"/>
<path d="M901.6 346.8L964.1 310.2Q976.1 303.2 988.1 310.2L1236.8 455.7Q1248.8 462.7 1236.8 469.7L1174.3 506.3Q1162.3 513.3 1150.3 506.3L901.6 360.8Q889.6 353.8 901.6 346.8Z" fill="#f1f5fc" transform="translate(0,1.8)"/>
<path d="M901.6 346.8L964.1 310.2Q976.1 303.2 988.1 310.2L1236.8 455.7Q1248.8 462.7 1236.8 469.7L1174.3 506.3Q1162.3 513.3 1150.3 506.3L901.6 360.8Q889.6 353.8 901.6 346.8Z" fill="#f1f5fc" transform="translate(0,0.9)"/>
<path d="M901.6 346.8L964.1 310.2Q976.1 303.2 988.1 310.2L1236.8 455.7Q1248.8 462.7 1236.8 469.7L1174.3 506.3Q1162.3 513.3 1150.3 506.3L901.6 360.8Q889.6 353.8 901.6 346.8Z" fill="#ffffff"/>
<path d="M904.7 347.8L965.8 312Q976.1 306 986.4 312L1233.7 456.7Q1244 462.7 1233.7 468.8L1172.6 504.5Q1162.3 510.5 1152 504.5L904.7 359.8Q894.4 353.8 904.7 347.8Z" fill="#dae4f5"/>
<g clip-path="url(#cp889)">
<path d="M904.7 347.8L965.8 312Q976.1 306 986.4 312L1233.7 456.7Q1244 462.7 1233.7 468.8L1172.6 504.5Q1162.3 510.5 1152 504.5L904.7 359.8Q894.4 353.8 904.7 347.8Z" fill="#e9f0fb" transform="translate(0,9.8)"/>
</g>
<polygon points="1049.5,526.4 1071.6,539.3 1118,512.1 1095.9,499.2" fill="#d2d2d2"/>
<polygon points="1051.5,522.4 1070.1,533.3 1070.1,524.8 1051.5,513.9" fill="#e98272"/>
<polygon points="1070.1,533.3 1113.5,507.9 1113.5,499.4 1070.1,524.8" fill="#ee8c7c"/>
<polygon points="1051.5,513.9 1070.1,524.8 1113.5,499.4 1094.9,488.5" fill="#f4a596"/>
<polygon points="1050.9,522.6 1070.5,534.1 1070.5,531.9 1050.9,520.4" fill="#b4b4b4"/>
<polygon points="1052.7,516.6 1056.9,519.1 1056.9,521.7 1052.7,519.2" fill="#f6b3a8"/>
<polygon points="1064.7,523.6 1068.9,526.1 1068.9,528.7 1064.7,526.2" fill="#f6b3a8"/>
<polygon points="1053.8,513.7 1070.4,523.4 1075.3,511.7 1061.9,503.9" fill="#6f93ab"/>
<polygon points="1070.4,523.4 1095.1,509 1090.5,502.8 1075.3,511.7" fill="#5f8399"/>
<polygon points="1095.1,509 1078.5,499.3 1077.1,494.9 1090.5,502.8" fill="#f4a596"/>
<polygon points="1061.9,503.9 1075.3,511.7 1090.5,502.8 1077.1,494.9" fill="#f4a596"/>
<line x1="1082.8" y1="516.2" x2="1082.9" y2="507.2" stroke="#ee8c7c" stroke-width="1.4"/>
<line x1="1070.4" y1="523.4" x2="1075.3" y2="511.7" stroke="#f4a596" stroke-width="1.3"/>
<line x1="1095.1" y1="509" x2="1090.5" y2="502.8" stroke="#ee8c7c" stroke-width="1.6"/>
<g transform="rotate(-10 1079.4 527)">
<ellipse cx="1079.4" cy="527" rx="3.3" ry="4" fill="#7c7c80"/>
<ellipse cx="1079.6" cy="527" rx="1.6" ry="2" fill="#c2c2c4"/>
</g>
<g transform="rotate(-10 1105.4 511.8)">
<ellipse cx="1105.4" cy="511.8" rx="3.3" ry="4" fill="#7c7c80"/>
<ellipse cx="1105.6" cy="511.8" rx="1.6" ry="2" fill="#c2c2c4"/>
</g>
<polygon points="1158.8,572.2 1183.6,584 1190.4,581.2 1219.7,563.1 1218.6,558.6 1192.6,572.2" fill="#d2d2d2"/>
<polygon points="1154.9,560.3 1158.8,554.1 1172.4,545.1 1185.9,539.5 1198.3,538.9 1211.8,545.1 1217.4,550.7 1217.2,556.4 1211.2,563.1 1188.1,577.8 1184.2,581.4 1179.1,580.6 1156,567.6" fill="#f7cf78"/>
<polygon points="1154.9,560.3 1158.8,554.1 1172.4,545.1 1185.9,539.5 1198.3,538.9 1211.8,545.1 1217.4,550.7 1215.2,553 1197.2,557.5 1188.1,564.3 1181.4,572.2 1178,574.4 1158.8,564.3" fill="#fbdf92"/>
<polygon points="1155.2,560.9 1158.8,564.3 1178,574.4 1181.4,572.2 1184.2,581.4 1179.1,580.6 1156,567.6" fill="#f9d683"/>
<polygon points="1186.4,541.1 1197.2,538.9 1210.9,546.4 1211.6,552.8 1198.8,556.4 1194,545.3" fill="#5c86a0"/>
<polygon points="1198.8,556.4 1211.6,552.8 1211.1,549.6 1198.3,553" fill="#527a93"/>
<polygon points="1162.2,556.4 1171.2,549.4 1180.5,555.2 1171.8,562.2" fill="#5f88a2"/>
<polygon points="1169.2,575.3 1177.4,578.9 1177.4,577.6 1169.5,574" fill="#f08a7a"/>
<g transform="rotate(-8 1185.3 575.3)">
<ellipse cx="1185.3" cy="575.3" rx="3.9" ry="5.2" fill="#7c7c80"/>
<ellipse cx="1185.5" cy="575.3" rx="1.9" ry="2.6" fill="#c2c2c4"/>
</g>
<g transform="rotate(-8 1209.8 561.4)">
<ellipse cx="1209.8" cy="561.4" rx="3.7" ry="5" fill="#7c7c80"/>
<ellipse cx="1210" cy="561.4" rx="1.9" ry="2.5" fill="#c2c2c4"/>
</g>
<polygon points="1278.1,500.7 1303.6,515.6 1361.9,481.5 1336.4,466.5" fill="#d2d2d2"/>
<polygon points="1280.1,496.7 1302.1,509.6 1302.1,498.6 1280.1,485.7" fill="#eef2fa"/>
<polygon points="1302.1,509.6 1357.4,477.2 1357.4,466.2 1302.1,498.6" fill="#e4eaf6"/>
<polygon points="1280.1,485.7 1302.1,498.6 1357.4,466.2 1335.4,453.3" fill="#ffffff"/>
<polygon points="1302.1,504.9 1357.4,472.6 1357.4,468.6 1302.1,501" fill="#9b736b"/>
<polygon points="1279.5,496.9 1302.5,510.4 1302.5,508.2 1279.5,494.7" fill="#b4b4b4"/>
<polygon points="1281.3,488.4 1285.5,490.9 1285.5,493.5 1281.3,491" fill="#f2a090"/>
<polygon points="1296.7,497.4 1300.9,499.9 1300.9,502.5 1296.7,500" fill="#f2a090"/>
<polygon points="1281.1,486.3 1301.1,498 1304,485.9 1287.2,476.1" fill="#6f93ab"/>
<polygon points="1301.1,498 1337.6,476.6 1329.5,471 1304,485.9" fill="#5f8399"/>
<polygon points="1337.6,476.6 1317.6,464.9 1312.7,461.2 1329.5,471" fill="#ffffff"/>
<polygon points="1287.2,476.1 1304,485.9 1329.5,471 1312.7,461.2" fill="#ffffff"/>
<line x1="1313.3" y1="490.9" x2="1312.5" y2="480.9" stroke="#e4eaf6" stroke-width="1.4"/>
<line x1="1325.4" y1="483.8" x2="1321" y2="476" stroke="#e4eaf6" stroke-width="1.4"/>
<line x1="1301.1" y1="498" x2="1304" y2="485.9" stroke="#ffffff" stroke-width="1.3"/>
<line x1="1337.6" y1="476.6" x2="1329.5" y2="471" stroke="#e4eaf6" stroke-width="1.6"/>
<path d="M1291.1 474.9v-1.3L1310.6 462.2v1.3" fill="none" stroke="#5a5a60" stroke-width="0.8"/>
<path d="M1307.1 484.2v-1.3L1326.6 471.5v1.3" fill="none" stroke="#5a5a60" stroke-width="0.8"/>
<g transform="rotate(-10 1313.8 501.9)">
<ellipse cx="1313.8" cy="501.9" rx="3.3" ry="4" fill="#7c7c80"/>
<ellipse cx="1314" cy="501.9" rx="1.6" ry="2" fill="#c2c2c4"/>
</g>
<g transform="rotate(-10 1346.9 482.5)">
<ellipse cx="1346.9" cy="482.5" rx="3.3" ry="4" fill="#7c7c80"/>
<ellipse cx="1347.1" cy="482.5" rx="1.6" ry="2" fill="#c2c2c4"/>
</g>
<polygon points="1384.5,513.2 1437.5,544.2 1456.5,533.1 1403.5,502.1" fill="#d2d2d2"/>
<polygon points="1388.5,509.5 1438.5,538.8 1438.5,531.8 1388.5,502.5" fill="#f6ab6c"/>
<polygon points="1438.5,538.8 1454.5,529.4 1454.5,522.4 1438.5,531.8" fill="#f09f5e"/>
<polygon points="1388.5,502.5 1438.5,531.8 1454.5,522.4 1404.5,493.1" fill="#f9bb84"/>
<polygon points="1400,507.5 1424,521.5 1423.2,513.2 1404,501.9" fill="#6f93ab"/>
<polygon points="1424,521.5 1437,513.9 1433,507.4 1423.2,513.2" fill="#64889f"/>
<polygon points="1404,501.9 1423.2,513.2 1433,507.4 1413.8,496.2" fill="#f9bb84"/>
<line x1="1412" y1="514.5" x2="1413.6" y2="507.6" stroke="#f6ab6c" stroke-width="1.3"/>
<line x1="1400" y1="507.5" x2="1404" y2="501.9" stroke="#f6ab6c" stroke-width="1.4"/>
<line x1="1424" y1="521.5" x2="1423.2" y2="513.2" stroke="#f9bb84" stroke-width="1.2"/>
<g transform="rotate(12 1397.9 514.6)">
<ellipse cx="1397.9" cy="514.6" rx="3" ry="3.6" fill="#7c7c80"/>
<ellipse cx="1398.1" cy="514.6" rx="1.5" ry="1.8" fill="#c2c2c4"/>
</g>
<g transform="rotate(12 1427.9 532.1)">
<ellipse cx="1427.9" cy="532.1" rx="3" ry="3.6" fill="#7c7c80"/>
<ellipse cx="1428.1" cy="532.1" rx="1.5" ry="1.8" fill="#c2c2c4"/>
</g>
<polygon points="1366.4,557.8 1393.5,574.1 1412.6,564 1405.9,557.8" fill="#d6d6d6"/>
<path d="M1356.8 546.5C1356.3 552.2 1357.4 554.4 1360.8 556.7L1390.1 571.9C1394.6 573.6 1398 571.5 1401.4 569.3L1409.3 562.5C1409.8 557.8 1408.1 553.3 1403.6 547.6L1378.8 534.7C1367.5 535.2 1359.7 540.9 1356.8 546.5Z" fill="#e3eaf6"/>
<path d="M1361.9 543.1C1367.5 535.2 1376.6 534.1 1383.3 535.2C1392.4 537.5 1403.6 546.5 1408.7 557.8C1409.3 561.2 1408.1 563.2 1405.9 564.6L1394.6 570.2C1390.1 565.7 1382.2 558.9 1377.7 556.7L1365.3 549.9C1361.9 547.6 1360.8 545.4 1361.9 543.1Z" fill="#ffffff"/>
<path d="M1364.7 542.6C1368.7 536.4 1377.7 534.7 1388.4 536.4C1383.3 538.6 1378.8 543.1 1377.7 547.6L1378.8 554.6L1367.5 547.6Z" fill="#5f8aa6"/>
<path d="M1384.5 549.9C1390.1 548.8 1394.6 546.5 1397.4 543.1L1400.5 547.6C1398 551 1393.5 553.8 1389.5 554.4Z" fill="#5f8aa6"/>
<polygon points="1400.8,566.6 1405.9,564.3 1406.1,565.3 1401,567.6" fill="#ee6a6a"/>
<g transform="rotate(-8 1361.9 551.8)">
<ellipse cx="1361.9" cy="551.8" rx="3.7" ry="4.9" fill="#7c7c80"/>
<ellipse cx="1362.1" cy="551.8" rx="1.9" ry="2.5" fill="#c2c2c4"/>
</g>
<g transform="rotate(-8 1386.7 566.2)">
<ellipse cx="1386.7" cy="566.2" rx="3.7" ry="4.9" fill="#7c7c80"/>
<ellipse cx="1386.9" cy="566.2" rx="1.9" ry="2.5" fill="#c2c2c4"/>
</g>
<ellipse cx="1014.2" cy="532.4" rx="5.2" ry="2.1" fill="#cdcdcd"/>
<g transform="translate(1013 532) scale(1) skewX(0)">
<path d="M-2.8 -17L-3.2 0h2.4L0 -11L0.8 0h2.4L2.8 -17z" fill="#ffffff"/>
<path d="M-3.6 -0.9h3.2v1.6h-3.2zM0.6 -0.9h3.2v1.6h-3.2z" fill="#f4f4f4"/>
<path d="M-3.3 -28.2l-2 10l1.4 0.5l1.6 -6.5zM3.3 -28.2l2 10l-1.4 0.5l-1.6 -6.5z" fill="#e8b89a"/>
<circle cx="-4.7" cy="-17.6" r="0.9" fill="#e8b89a"/><circle cx="4.7" cy="-17.6" r="0.9" fill="#e8b89a"/>
<path d="M-3.3 -28.6q3.3 -1.7 6.6 0l0.5 12.2h-7.6z" fill="#cfd9e8"/>
<path d="M-1 -30h2v2h-2z" fill="#e8b89a"/>
<circle cx="0" cy="-32.2" r="2.8" fill="#e8b89a"/>
<path d="M-3 -32.4a3 3 0 0 1 6 0q-0.4 -1.2 -1.6 -1.4q-2.2 0.8 -4.4 1.4z" fill="#444"/>
</g>
<ellipse cx="1139.2" cy="587.9" rx="5.2" ry="2.1" fill="#cdcdcd"/>
<g transform="translate(1138 587.5) scale(1) skewX(0)">
<path d="M-2.8 -17L-3.8 0h2.4L0 -11L1.4 0h2.4L2.8 -17z" fill="#86a6c4"/>
<path d="M-4.2 -0.9h3.2v1.6h-3.2zM1.2 -0.9h3.2v1.6h-3.2z" fill="#f4f4f4"/>
<path d="M-3.3 -28.2l-2.5 10l1.4 0.5l2.1 -6.5zM3.3 -28.2l2.5 10l-1.4 0.5l-2.1 -6.5z" fill="#e8877a"/>
<circle cx="-5.2" cy="-17.6" r="0.9" fill="#e8b89a"/><circle cx="5.2" cy="-17.6" r="0.9" fill="#e8b89a"/>
<path d="M-3.3 -28.6q3.3 -1.7 6.6 0l0.5 12.2h-7.6z" fill="#e8877a"/>
<path d="M-1 -30h2v2h-2z" fill="#e8b89a"/>
<circle cx="0" cy="-32.2" r="2.8" fill="#e8b89a"/>
<path d="M-3 -32.4a3 3 0 0 1 6 0q-0.4 -1.2 -1.6 -1.4q-2.2 0.8 -4.4 1.4z" fill="#7a4a3a"/>
</g>
<ellipse cx="1152.7" cy="596.9" rx="5.2" ry="2.1" fill="#cdcdcd"/>
<g transform="translate(1151.5 596.5) scale(1) skewX(0)">
<path d="M-2.8 -17L-3.2 0h2.4L0 -11L0.8 0h2.4L2.8 -17z" fill="#f4f6fa"/>
<path d="M-3.6 -0.9h3.2v1.6h-3.2zM0.6 -0.9h3.2v1.6h-3.2z" fill="#333"/>
<path d="M-3.3 -28.2l-2 10l1.4 0.5l1.6 -6.5zM3.3 -28.2l2 10l-1.4 0.5l-1.6 -6.5z" fill="#55555a"/>
<circle cx="-4.7" cy="-17.6" r="0.9" fill="#e8b89a"/><circle cx="4.7" cy="-17.6" r="0.9" fill="#e8b89a"/>
<path d="M-3.3 -28.6q3.3 -1.7 6.6 0l0.5 12.2h-7.6z" fill="#55555a"/>
<path d="M-7 -14h4.6v6.4h-4.6z" fill="#dfe9f6" stroke="#7f9fc0" stroke-width="0.5"/>
<path d="M-1 -30h2v2h-2z" fill="#e8b89a"/>
<circle cx="0" cy="-32.2" r="2.8" fill="#e8b89a"/>
<path d="M-3 -32.4a3 3 0 0 1 6 0q-0.4 -1.2 -1.6 -1.4q-2.2 0.8 -4.4 1.4z" fill="#f08a4a"/>
</g>
<ellipse cx="1356.3" cy="462.9" rx="5.8" ry="2.3" fill="#cdcdcd"/>
<g transform="translate(1355 462.5) scale(1.1) skewX(-6)">
<path d="M-2.8 -17L-5.8 0h2.4L0 -11L3.4 0h2.4L2.8 -17z" fill="#86a6c4"/>
<path d="M-6.2 -0.9h3.2v1.6h-3.2zM3.2 -0.9h3.2v1.6h-3.2z" fill="#f4f4f4"/>
<path d="M-3.3 -28.2l-4.1 10l1.4 0.5l3.7 -6.5zM3.3 -28.2l4.1 10l-1.4 0.5l-3.7 -6.5z" fill="#ffffff"/>
<circle cx="-6.8" cy="-17.6" r="0.9" fill="#e8b89a"/><circle cx="6.8" cy="-17.6" r="0.9" fill="#e8b89a"/>
<path d="M-3.3 -28.6q3.3 -1.7 6.6 0l0.5 12.2h-7.6z" fill="#ee8c7c"/>
<path d="M-1 -30h2v2h-2z" fill="#e8b89a"/>
<circle cx="0" cy="-32.2" r="2.8" fill="#e8b89a"/>
<path d="M-3 -32.4a3 3 0 0 1 6 0q-0.4 -1.2 -1.6 -1.4q-2.2 0.8 -4.4 1.4z" fill="#444"/>
</g>
</g>
<circle cx="1136.5" cy="181.5" r="86" fill="#ffffff"/>
<circle cx="1496.5" cy="478" r="86.8" fill="#ffffff"/>
<path d="M92.6 206.4C135.7 203 186.5 198.4 216.9 197.6C237.2 198.4 251.6 208.1 264.3 227.5L282 254.6C283.7 268.9 275.3 278.2 254.1 286.7C237.2 292.6 213.5 295.2 196.6 299.4L164.5 301.1L117.1 287L110.7 279.9L110 225.8Z" fill="url(#bw)" stroke="#e9e9eb" stroke-width="0.8"/>
<path d="M233.8 281.6C237.2 286.7 247.4 286.7 249.9 280.8Z" fill="#e9e9ec"/>
<ellipse cx="220.3" cy="199.8" rx="4.2" ry="2.2" fill="#c9c9cc"/>
<ellipse cx="220.3" cy="199.8" rx="2.2" ry="1.2" fill="#eeeeee"/>
<path d="M169.6 230C179.7 237.7 189.9 244.4 203.4 247C220.3 249.2 237.2 247 254.1 244.1L267.7 249.2L269.4 254.2C254.1 257.9 242.3 261.3 233.8 266.7C223.7 273.5 216.9 285.3 203.4 292.1C193.2 296.8 179.7 298.9 169.6 296.5Z" fill="#131315"/>
<line x1="198" y1="246.4" x2="198" y2="294.3" stroke="#2e2e32" stroke-width="0.6"/>
<path d="M93.8 207.2L109.7 225.8L110.4 220.7L115.1 212.6L100.2 207.5Z" fill="#0e0e10"/>
<path d="M95.3 207.7C106.6 208.1 117.5 208.7 125.6 209.1C135.1 209.8 143.2 210.6 149.9 212.3C156.7 214.6 161.4 217.7 165.1 221.4C168.2 224.6 170.5 228.1 172.3 231.3L171 234.6L166.2 225.4L117.5 215.4L110.2 224.9Z" fill="#0d0d0f"/>
<path d="M110.4 225.8C110.4 219 112.1 214.3 117.1 213.6L152.7 215.3C164.5 217.4 170.4 224.1 170.4 232.9L170.4 295.5C170.4 300.2 167.9 301.6 163.6 300.6L118 287C112.9 285 111.2 282.5 110.9 279.1Z" fill="url(#bk)"/>
<path d="M114.1 271.5L114.1 281.6C114.8 284.3 116.5 285.3 118.8 286L162 298.5" fill="none" stroke="#3a3a40" stroke-width="1.3" stroke-linecap="round"/>
<g transform="rotate(-8 143.4 255.4)">
<ellipse cx="143.4" cy="255.4" rx="15.2" ry="22.3" fill="#19191b" stroke="#444448" stroke-width="0.9"/>
<ellipse cx="143.8" cy="255.6" rx="11.6" ry="16.6" fill="url(#lens)"/>
<ellipse cx="145.9" cy="253.4" rx="5.6" ry="7" fill="none" stroke="#767678" stroke-width="0.6"/>
</g>
<circle cx="142.5" cy="286.2" r="1.2" fill="#000" stroke="#3a3a3e" stroke-width="0.5"/>
<ellipse cx="159.4" cy="297.2" rx="2.2" ry="0.9" fill="#3c55c8"/>
<ellipse cx="256" cy="236" rx="20" ry="25" fill="url(#dsh)"/>
<text x="254" y="234.6" font-family="Liberation Sans, sans-serif" font-weight="bold" font-size="7.6" fill="#2a2a2a">D</text>
<path d="M248.1 189.4C248.1 179.3 264.3 168.1 298.8 166.7C331.3 168.1 347.1 179.3 347.1 189.4L345.5 207.7C341.4 219.8 335.4 228 331.7 232C327.2 250.3 313 262.4 298.8 263.9C282.6 262.4 270.4 252.3 265.6 247.2C258.3 236.1 252.2 223.9 249.5 211.7Z" fill="url(#dm)"/>
<path d="M249.7 190.4C264.3 177.2 331.3 177.2 345.9 190.4" fill="none" stroke="#e2e2e4" stroke-width="0.7"/>
<g fill="#c9c9cc">
<ellipse cx="257.4" cy="204" rx="1.6" ry="5.6" transform="rotate(-18 257.4 204)"/>
<ellipse cx="339.4" cy="206.7" rx="1.6" ry="5.6" transform="rotate(18 339.4 206.7)"/>
</g>
<path d="M262.9 224.7C270.4 216.8 284.6 214 298.8 214C313 214 325.2 217.8 330.9 225.9C331.3 245.2 317.1 260 298.4 260.4C279.6 260 262.7 245.2 262.9 224.7Z" fill="#141416"/>
<circle cx="298.8" cy="235.3" r="15.2" fill="#0c0c0e" stroke="#2e2e32" stroke-width="1"/>
<circle cx="298.8" cy="235.3" r="9.5" fill="#1c1c20" stroke="#2a2a2e" stroke-width="0.8"/>
<circle cx="298.8" cy="235.3" r="4.8" fill="#050506"/>
<circle cx="298.4" cy="233.7" r="1.5" fill="#ffffff"/>
<circle cx="275.5" cy="233" r="2.7" fill="#1e1e22" stroke="#46464c" stroke-width="0.8"/>
<circle cx="321.2" cy="233.6" r="2.7" fill="#1e1e22" stroke="#46464c" stroke-width="0.8"/>
<circle cx="297.8" cy="256.8" r="1.6" fill="#232326" stroke="#444" stroke-width="0.5"/>
<text x="297.8" y="201.8" font-family="Liberation Sans, sans-serif" font-weight="bold" font-size="4.6" fill="#222" textLength="20" lengthAdjust="spacingAndGlyphs" text-anchor="middle">CONW<tspan fill="#d22">I</tspan>N</text>
<circle cx="249.8" cy="639" r="240.3" fill="none" stroke="#dcdcdc" stroke-width="1.7"/>
<polygon points="57,629.5 245,737.5 441,623.5 441,626.5 245,741 57,632.5" fill="#c9c9c9"/>
<polygon points="57,629.5 253,515.5 441,623.5 245,737.5" fill="#ababab"/>
<polygon points="57,629.5 245,738.2 252,734.1 70,628.9" fill="#c8f0b3"/>
<polygon points="61,631.8 245,738.2 246.6,737.2 64.1,631.8" fill="#d9d9d9"/>
<polygon points="217.5,711.9 245,738.2 441,624.9 404.5,603.8" fill="#c8f0b3"/>
<polygon points="235,732.4 245,738.2 254,733 244,727.2" fill="#b5b5b5"/>
<polygon points="238.5,732.7 245,736.4 250.5,733.3 244,729.5" fill="#c8f0b3"/>
<polygon points="176.1,564.3 236.1,530.4 243.8,538 188,569.3" fill="#c8f0b3"/>
<ellipse cx="235.3" cy="541.4" rx="3.6" ry="1.6" fill="#b4dca2"/>
<line x1="235.3" y1="531.4" x2="235.3" y2="541.4" stroke="#d9a3a8" stroke-width="1"/>
<path d="M235.3 515.6C230.5 523.6 229.7 534.6 235.3 535.1C240.9 534.6 240.1 523.6 235.3 515.6Z" fill="url(#tr)"/>
<ellipse cx="220.9" cy="549" rx="3.6" ry="1.6" fill="#b4dca2"/>
<line x1="220.9" y1="539" x2="220.9" y2="549" stroke="#d9a3a8" stroke-width="1"/>
<path d="M220.9 523.7C216.1 531.7 215.3 542.7 220.9 543.2C226.5 542.7 225.7 531.7 220.9 523.7Z" fill="url(#tr)"/>
<ellipse cx="206.5" cy="557.5" rx="3.6" ry="1.6" fill="#b4dca2"/>
<line x1="206.5" y1="547.5" x2="206.5" y2="557.5" stroke="#d9a3a8" stroke-width="1"/>
<path d="M206.5 532.1C201.7 540.1 200.9 551.1 206.5 551.6C212.1 551.1 211.3 540.1 206.5 532.1Z" fill="url(#tr)"/>
<ellipse cx="192.2" cy="566" rx="3.6" ry="1.6" fill="#b4dca2"/>
<line x1="192.2" y1="556" x2="192.2" y2="566" stroke="#d9a3a8" stroke-width="1"/>
<path d="M192.2 540.6C187.4 548.6 186.6 559.6 192.2 560.1C197.8 559.6 197 548.6 192.2 540.6Z" fill="url(#tr)"/>
<path d="M242.5 545v28.5a25 12 0 0 0 50 0v-28.5z" fill="#ebebeb"/>
<ellipse cx="267.5" cy="545" rx="25" ry="12" fill="#ffffff"/>
<ellipse cx="267" cy="539.2" rx="6" ry="3" fill="#fdfdfd" stroke="#bdbdbd" stroke-width="0.7"/>
<path d="M186.2 578v28.5a25 12 0 0 0 50 0v-28.5z" fill="#ebebeb"/>
<ellipse cx="211.2" cy="578" rx="25" ry="12" fill="#ffffff"/>
<ellipse cx="210.7" cy="572.2" rx="6" ry="3" fill="#fdfdfd" stroke="#bdbdbd" stroke-width="0.7"/>
<path d="M301 577v28.5a25 12 0 0 0 50 0v-28.5z" fill="#ebebeb"/>
<ellipse cx="326" cy="577" rx="25" ry="12" fill="#ffffff"/>
<ellipse cx="325.5" cy="571.2" rx="6" ry="3" fill="#fdfdfd" stroke="#bdbdbd" stroke-width="0.7"/>
<path d="M129.7 610v28.5a25 12 0 0 0 50 0v-28.5z" fill="#ebebeb"/>
<ellipse cx="154.7" cy="610" rx="25" ry="12" fill="#ffffff"/>
<ellipse cx="154.2" cy="604.2" rx="6" ry="3" fill="#fdfdfd" stroke="#bdbdbd" stroke-width="0.7"/>
<path d="M245 611v28.5a25 12 0 0 0 50 0v-28.5z" fill="#ebebeb"/>
<ellipse cx="270" cy="611" rx="25" ry="12" fill="#ffffff"/>
<ellipse cx="269.5" cy="605.2" rx="6" ry="3" fill="#fdfdfd" stroke="#bdbdbd" stroke-width="0.7"/>
<path d="M188.5 643v28.5a25 12 0 0 0 50 0v-28.5z" fill="#ebebeb"/>
<ellipse cx="213.5" cy="643" rx="25" ry="12" fill="#ffffff"/>
<ellipse cx="213" cy="637.2" rx="6" ry="3" fill="#fdfdfd" stroke="#bdbdbd" stroke-width="0.7"/>
<g transform="translate(226 711)"><g transform="scale(1.22)"><path d="M-4.4 1.2v-2.2q0 -1.6 1.6 -2.5l4 -2.3q1.8 -1 3 0.2q0.8 0.8 0.8 2v2.2q0 1.4 -1.6 2.4l-4 2.3q-1.8 1 -3 -0.1q-0.8 -0.8 -0.8 -2z" fill="#a3da8b"/><path d="M-4.2 -1.4q0 -1.4 1.5 -2.2l4 -2.3q1.6 -0.9 2.8 0.1q0.6 0.7 0.4 1.6l-6 3.6q-1.4 0.8 -2.7 -0.8z" fill="#afe298"/></g></g>
<g transform="translate(235 705.8)"><g transform="scale(1.22)"><path d="M-4.4 1.2v-2.2q0 -1.6 1.6 -2.5l4 -2.3q1.8 -1 3 0.2q0.8 0.8 0.8 2v2.2q0 1.4 -1.6 2.4l-4 2.3q-1.8 1 -3 -0.1q-0.8 -0.8 -0.8 -2z" fill="#a3da8b"/><path d="M-4.2 -1.4q0 -1.4 1.5 -2.2l4 -2.3q1.6 -0.9 2.8 0.1q0.6 0.7 0.4 1.6l-6 3.6q-1.4 0.8 -2.7 -0.8z" fill="#afe298"/></g></g>
<g transform="translate(334 648.6)"><g transform="scale(1.22)"><path d="M-4.4 1.2v-2.2q0 -1.6 1.6 -2.5l4 -2.3q1.8 -1 3 0.2q0.8 0.8 0.8 2v2.2q0 1.4 -1.6 2.4l-4 2.3q-1.8 1 -3 -0.1q-0.8 -0.8 -0.8 -2z" fill="#a3da8b"/><path d="M-4.2 -1.4q0 -1.4 1.5 -2.2l4 -2.3q1.6 -0.9 2.8 0.1q0.6 0.7 0.4 1.6l-6 3.6q-1.4 0.8 -2.7 -0.8z" fill="#afe298"/></g></g>
<g transform="translate(345 642.2)"><g transform="scale(1.22)"><path d="M-4.4 1.2v-2.2q0 -1.6 1.6 -2.5l4 -2.3q1.8 -1 3 0.2q0.8 0.8 0.8 2v2.2q0 1.4 -1.6 2.4l-4 2.3q-1.8 1 -3 -0.1q-0.8 -0.8 -0.8 -2z" fill="#a3da8b"/><path d="M-4.2 -1.4q0 -1.4 1.5 -2.2l4 -2.3q1.6 -0.9 2.8 0.1q0.6 0.7 0.4 1.6l-6 3.6q-1.4 0.8 -2.7 -0.8z" fill="#afe298"/></g></g>
<g transform="translate(356 635.9)"><g transform="scale(1.22)"><path d="M-4.4 1.2v-2.2q0 -1.6 1.6 -2.5l4 -2.3q1.8 -1 3 0.2q0.8 0.8 0.8 2v2.2q0 1.4 -1.6 2.4l-4 2.3q-1.8 1 -3 -0.1q-0.8 -0.8 -0.8 -2z" fill="#a3da8b"/><path d="M-4.2 -1.4q0 -1.4 1.5 -2.2l4 -2.3q1.6 -0.9 2.8 0.1q0.6 0.7 0.4 1.6l-6 3.6q-1.4 0.8 -2.7 -0.8z" fill="#afe298"/></g></g>
<g transform="translate(367 629.5)"><g transform="scale(1.22)"><path d="M-4.4 1.2v-2.2q0 -1.6 1.6 -2.5l4 -2.3q1.8 -1 3 0.2q0.8 0.8 0.8 2v2.2q0 1.4 -1.6 2.4l-4 2.3q-1.8 1 -3 -0.1q-0.8 -0.8 -0.8 -2z" fill="#a3da8b"/><path d="M-4.2 -1.4q0 -1.4 1.5 -2.2l4 -2.3q1.6 -0.9 2.8 0.1q0.6 0.7 0.4 1.6l-6 3.6q-1.4 0.8 -2.7 -0.8z" fill="#afe298"/></g></g>
<g transform="translate(378 623.1)"><g transform="scale(1.22)"><path d="M-4.4 1.2v-2.2q0 -1.6 1.6 -2.5l4 -2.3q1.8 -1 3 0.2q0.8 0.8 0.8 2v2.2q0 1.4 -1.6 2.4l-4 2.3q-1.8 1 -3 -0.1q-0.8 -0.8 -0.8 -2z" fill="#a3da8b"/><path d="M-4.2 -1.4q0 -1.4 1.5 -2.2l4 -2.3q1.6 -0.9 2.8 0.1q0.6 0.7 0.4 1.6l-6 3.6q-1.4 0.8 -2.7 -0.8z" fill="#afe298"/></g></g>
<g transform="translate(389 616.8)"><g transform="scale(1.22)"><path d="M-4.4 1.2v-2.2q0 -1.6 1.6 -2.5l4 -2.3q1.8 -1 3 0.2q0.8 0.8 0.8 2v2.2q0 1.4 -1.6 2.4l-4 2.3q-1.8 1 -3 -0.1q-0.8 -0.8 -0.8 -2z" fill="#a3da8b"/><path d="M-4.2 -1.4q0 -1.4 1.5 -2.2l4 -2.3q1.6 -0.9 2.8 0.1q0.6 0.7 0.4 1.6l-6 3.6q-1.4 0.8 -2.7 -0.8z" fill="#afe298"/></g></g>
<polygon points="262,685.6 273,691.9 331,658.4 320,652" fill="#ababab"/>
<polygon points="274,690.2 295,702.3 350,670.5 329,658.4" fill="#b9b9b9"/>
<polygon points="289,688.5 301,695.4 333,676.9 321,670" fill="#8c8c8c"/>
<g transform="translate(302 686.7)">
<path d="M-6 -1v-6q0 -3.5 3.5 -4.6l6 -2q3 -0.8 4.5 1.2l2.5 3.4v6.5l-8 4.6q-2 1 -3.8 -0.4z" fill="#f6cd84"/>
<path d="M-5.5 -7q0 -3.4 3.4 -4.4l3 -1q3 -0.4 3 3.4v6.5q-0.2 3 -3 4l-3 1q-3.4 0.6 -3.4 -3z" fill="#fbdc9a"/>
<path d="M-4 -12.5l4.5 -2l2.5 1.2l-4.6 2.2z" fill="#c9c9c9"/>
</g>
<g transform="translate(315 679.2)">
<path d="M-6 -1v-6q0 -3.5 3.5 -4.6l6 -2q3 -0.8 4.5 1.2l2.5 3.4v6.5l-8 4.6q-2 1 -3.8 -0.4z" fill="#f6cd84"/>
<path d="M-5.5 -7q0 -3.4 3.4 -4.4l3 -1q3 -0.4 3 3.4v6.5q-0.2 3 -3 4l-3 1q-3.4 0.6 -3.4 -3z" fill="#fbdc9a"/>
<path d="M-4 -12.5l4.5 -2l2.5 1.2l-4.6 2.2z" fill="#c9c9c9"/>
</g>
<g transform="translate(328 671.7)">
<path d="M-6 -1v-6q0 -3.5 3.5 -4.6l6 -2q3 -0.8 4.5 1.2l2.5 3.4v6.5l-8 4.6q-2 1 -3.8 -0.4z" fill="#f6cd84"/>
<path d="M-5.5 -7q0 -3.4 3.4 -4.4l3 -1q3 -0.4 3 3.4v6.5q-0.2 3 -3 4l-3 1q-3.4 0.6 -3.4 -3z" fill="#fbdc9a"/>
<path d="M-4 -12.5l4.5 -2l2.5 1.2l-4.6 2.2z" fill="#c9c9c9"/>
</g>
<polygon points="274,690.2 329,658.4 329,646.6 274,678.4" fill="rgba(240,242,245,0.35)" stroke="#c4c8cc" stroke-width="0.7" stroke-linejoin="round"/>
<polygon points="329,658.4 350,670.5 350,658.7 329,646.6" fill="rgba(240,242,245,0.35)" stroke="#c4c8cc" stroke-width="0.7" stroke-linejoin="round"/>
<polygon points="274,690.2 295,702.3 295,690.5 274,678.4" fill="rgba(245,247,250,0.5)" stroke="#c4c8cc" stroke-width="0.7" stroke-linejoin="round"/>
<polygon points="295,702.3 350,670.5 350,658.7 295,690.5" fill="rgba(245,247,250,0.5)" stroke="#c4c8cc" stroke-width="0.7" stroke-linejoin="round"/>
<line x1="309" y1="694.2" x2="309" y2="682.4" stroke="#c4c8cc" stroke-width="0.7"/>
<line x1="323" y1="686.1" x2="323" y2="674.3" stroke="#c4c8cc" stroke-width="0.7"/>
<line x1="337" y1="678.1" x2="337" y2="666.3" stroke="#c4c8cc" stroke-width="0.7"/>
<rect x="277" y="685.5" width="2.4" height="3" fill="#e8f0ff" stroke="#9ab" stroke-width="0.4"/>
<line x1="49.4" y1="601.4" x2="229.7" y2="494.3" stroke="#e23a3a" stroke-width="1.2"/>
<line x1="49.4" y1="612.5" x2="229.7" y2="505.1" stroke="#e23a3a" stroke-width="1.2"/>
<line x1="305.1" y1="504" x2="440" y2="587" stroke="#e23a3a" stroke-width="1.2"/>
<line x1="302.2" y1="515.2" x2="438.2" y2="598.2" stroke="#e23a3a" stroke-width="1.2"/>
<line x1="283.4" y1="735" x2="418.4" y2="655.2" stroke="#e23a3a" stroke-width="1.2"/>
<line x1="286.7" y1="745.8" x2="421.3" y2="665.7" stroke="#e23a3a" stroke-width="1.2"/>
<line x1="80" y1="665.6" x2="207.4" y2="735.2" stroke="#e23a3a" stroke-width="1.2"/>
<line x1="77.5" y1="677.1" x2="204.8" y2="746.7" stroke="#e23a3a" stroke-width="1.2"/>
<path d="M23 616V640.2Q32.5 642.4 42 640.6V616Z" fill="url(#sg0)"/>
<path d="M42.6 617V605.4Q38.6 600.6 30.1 600Q22.4 600.2 22.4 603V617Z" fill="url(#sg0)"/>
<path d="M42.6 605.4Q38.6 600.6 30.1 600Q22.4 600.2 22.4 603L28.5 604.8Z" fill="#0d0e10"/>
<path d="M50.4 655.2V679.5Q59.7 681.7 69 679.9V655.2Z" fill="url(#sg1)"/>
<path d="M49.8 656.2V644.6Q53.8 639.8 62.1 639.2Q69.6 639.4 69.6 642.2V656.2Z" fill="url(#sg1)"/>
<path d="M49.8 644.6Q53.8 639.8 62.1 639.2Q69.6 639.4 69.6 642.2L63.7 644Z" fill="#0d0e10"/>
<path d="M239.7 494.8V518.3Q249.6 520.5 259.4 518.7V494.8Z" fill="url(#sg2)"/>
<path d="M239.1 495.8V484.2Q243.3 479.4 252.1 478.8Q260 479 260 481.8V495.8Z" fill="url(#sg2)"/>
<path d="M239.1 484.2Q243.3 479.4 252.1 478.8Q260 479 260 481.8L253.7 483.6Z" fill="#0d0e10"/>
<path d="M271.4 499.5V523.8Q281.1 526 290.7 524.2V499.5Z" fill="url(#sg3)"/>
<path d="M291.3 500.5V488.9Q287.2 484.1 278.6 483.5Q270.8 483.7 270.8 486.5V500.5Z" fill="url(#sg3)"/>
<path d="M291.3 488.9Q287.2 484.1 278.6 483.5Q270.8 483.7 270.8 486.5L276.9 488.3Z" fill="#0d0e10"/>
<path d="M446.4 593.3V618.3Q456.5 620.5 466.5 618.7V593.3Z" fill="url(#sg4)"/>
<path d="M467.1 594.3V582.7Q462.8 577.9 453.9 577.3Q445.8 577.5 445.8 580.3V594.3Z" fill="url(#sg4)"/>
<path d="M467.1 582.7Q462.8 577.9 453.9 577.3Q445.8 577.5 445.8 580.3L452.2 582.1Z" fill="#0d0e10"/>
<path d="M430.9 643.8V668.1Q440.6 670.3 450.3 668.5V643.8Z" fill="url(#sg5)"/>
<path d="M430.3 644.8V633.2Q434.4 628.4 443.1 627.8Q450.9 628 450.9 630.8V644.8Z" fill="url(#sg5)"/>
<path d="M430.3 633.2Q434.4 628.4 443.1 627.8Q450.9 628 450.9 630.8L444.7 632.6Z" fill="#0d0e10"/>
<path d="M220.6 735.6V759.2Q229.9 761.4 239.2 759.6V735.6Z" fill="url(#sg6)"/>
<path d="M220 736.6V725Q224 720.2 232.3 719.6Q239.8 719.8 239.8 722.6V736.6Z" fill="url(#sg6)"/>
<path d="M220 725Q224 720.2 232.3 719.6Q239.8 719.8 239.8 722.6L233.9 724.4Z" fill="#0d0e10"/>
<path d="M253.3 735.1V760.1Q263 762.3 272.7 760.5V735.1Z" fill="url(#sg7)"/>
<path d="M273.3 736.1V724.5Q269.2 719.7 260.5 719.1Q252.7 719.3 252.7 722.1V736.1Z" fill="url(#sg7)"/>
<path d="M273.3 724.5Q269.2 719.7 260.5 719.1Q252.7 719.3 252.7 722.1L258.9 723.9Z" fill="#0d0e10"/>
<rect x="603" y="404.5" width="263.8" height="303" fill="url(#pn)"/>
<rect x="603" y="404.5" width="263.8" height="1.2" fill="#fbf8ef"/>
<rect x="603" y="404.5" width="1.2" height="303" fill="#fbf8ef"/>
<rect x="603" y="706.3" width="263.8" height="1.2" fill="#e9e2cf"/>
<rect x="865.6" y="404.5" width="1.2" height="303" fill="#ebe5d3"/>
<rect x="604" y="682.9" width="262.8" height="4.4" fill="#d6222a"/>
<text x="632.4" y="650.3" font-size="11.3" font-weight="bold" fill="#2a2a2a">警云报警视频一体机</text>
<text x="632.3" y="658.9" font-size="4.2" fill="#3a3a3a" textLength="62.8" lengthAdjust="spacingAndGlyphs">ALARM &amp; VIDEO MAINFRAME</text>
<text x="804.6" y="434.7" font-size="9.5" font-weight="bold" fill="#1a1a1a">C</text>
<text x="812.6" y="434.7" font-size="6" font-weight="bold" fill="#1a1a1a" textLength="22.2" lengthAdjust="spacingAndGlyphs">ONW</text>
<text x="838" y="434.7" font-size="6" font-weight="bold" fill="#1a1a1a" textLength="6.2" lengthAdjust="spacingAndGlyphs">N</text>
<rect x="835.3" y="430.2" width="1.9" height="4.5" fill="#d8232a"/>
<circle cx="836.2" cy="428.8" r="1.1" fill="#d8232a"/>
<text x="819.4 826.3 833.4 840.3" y="440.1" font-size="3.5" fill="#444">丛文安全</text>
<ellipse cx="834" cy="522" rx="7.6" ry="5.2" fill="#f4eedd" stroke="#555" stroke-width="0.9"/>
<text x="834" y="524.4" font-family="Liberation Sans, sans-serif" font-weight="bold" font-size="6.5" fill="#444" text-anchor="middle" textLength="10" lengthAdjust="spacingAndGlyphs">CCC</text>
<circle cx="834.3" cy="556" r="11.6" fill="url(#lk)" stroke="#b9b5a8" stroke-width="0.8"/>
<circle cx="834.3" cy="555.6" r="7.6" fill="#c9c9c9" stroke="#7d7d7d" stroke-width="0.9"/>
<circle cx="834.3" cy="555.6" r="4.2" fill="#9b9b9b" stroke="#666" stroke-width="0.6"/>
<rect x="833.6" y="552.2" width="1.4" height="6.8" fill="#444"/>
<path d="M828 563.5a9 9 0 0 0 12.5 0" fill="none" stroke="#fff" stroke-width="1.2"/>
<rect x="780.2" y="572.1" width="113.8" height="148.6" rx="10.5" fill="#efefef"/>
<rect x="781.5" y="573.4" width="111.2" height="146" rx="9.5" fill="#232325"/>
<text x="837" y="580.6" font-family="Liberation Sans, sans-serif" font-weight="bold" font-size="4.2" fill="#9a9a9a" text-anchor="middle" textLength="21" lengthAdjust="spacingAndGlyphs">CONWIN</text>
<rect x="794" y="584" width="86.4" height="43.6" fill="#99a2b6"/>
<rect x="796.2" y="586.2" width="39.8" height="39.8" rx="1.6" fill="#ffffff"/>
<rect x="838" y="586.2" width="19" height="18.8" rx="1.6" fill="#ffffff"/>
<g stroke="#1a6fc8" stroke-width="0.9" fill="none"><path d="M844 591.8v-1.9h1.9M849.1 589.9h1.9v1.9M844 594.9v1.9h1.9M851 594.9v1.9h-1.9"/></g>
<rect x="845.7" y="591.6" width="3.6" height="3.6" fill="#1a6fc8"/>
<rect x="842.4" y="598.8" width="10.2" height="3" fill="#3a3a3a" opacity="0.78"/>
<rect x="859" y="586.2" width="19" height="18.8" rx="1.6" fill="#ffffff"/>
<g stroke="#1a6fc8" stroke-width="0.9" fill="none"><path d="M865 591.8v-1.9h1.9M870.1 589.9h1.9v1.9M865 594.9v1.9h1.9M872 594.9v1.9h-1.9"/></g>
<rect x="866.7" y="591.6" width="3.6" height="3.6" fill="#1a6fc8"/>
<rect x="863.4" y="598.8" width="10.2" height="3" fill="#3a3a3a" opacity="0.78"/>
<rect x="838" y="607.2" width="19" height="18.8" rx="1.6" fill="#ffffff"/>
<g stroke="#1a6fc8" stroke-width="0.9" fill="none"><path d="M844 612.8v-1.9h1.9M849.1 610.9h1.9v1.9M844 615.9v1.9h1.9M851 615.9v1.9h-1.9"/></g>
<rect x="845.7" y="612.6" width="3.6" height="3.6" fill="#1a6fc8"/>
<rect x="842.4" y="619.8" width="10.2" height="3" fill="#3a3a3a" opacity="0.78"/>
<rect x="859" y="607.2" width="19" height="18.8" rx="1.6" fill="#ffffff"/>
<g stroke="#1a6fc8" stroke-width="0.9" fill="none"><path d="M865 612.8v-1.9h1.9M870.1 610.9h1.9v1.9M865 615.9v1.9h1.9M872 615.9v1.9h-1.9"/></g>
<rect x="866.7" y="612.6" width="3.6" height="3.6" fill="#1a6fc8"/>
<rect x="863.4" y="619.8" width="10.2" height="3" fill="#3a3a3a" opacity="0.78"/>
<text x="803.7" y="597.2" font-size="10" font-weight="bold" fill="#1470c8">10:20</text>
<rect x="801.5" y="600.4" width="28.5" height="2.2" fill="#9a9a9a" opacity="0.55"/>
<rect x="801" y="605.4" width="30" height="0.3" fill="#cfcfcf"/>
<rect x="805.5" y="609.6" width="21" height="2.7" fill="#3c3c3c" opacity="0.8"/>
<rect x="805.5" y="615.2" width="21" height="2.7" fill="#3c3c3c" opacity="0.8"/>
<rect x="803.5" y="620.8" width="25" height="2.7" fill="#3c3c3c" opacity="0.8"/>
<rect x="794" y="627.6" width="86.4" height="8" fill="#1d1d22"/>
<rect x="797.4" y="630" width="1.2" height="3.8" fill="#555"/>
<rect x="800.2" y="630" width="3.6" height="3.8" fill="#1e90f0"/>
<rect x="806.6" y="630" width="2" height="3.8" fill="#f0f0f0"/>
<rect x="810.4" y="630" width="3.4" height="3.8" fill="#22c040"/>
<rect x="817.2" y="630" width="2" height="3.8" fill="#f0f0f0"/>
<rect x="821.2" y="630" width="3.4" height="3.8" fill="#22c040"/>
<rect x="827.6" y="630" width="2" height="3.8" fill="#f0f0f0"/>
<rect x="831.4" y="630" width="3" height="3.8" fill="#f01818"/>
<rect x="851" y="629.6" width="5.2" height="4.4" rx="1.6" fill="#e81010"/>
<rect x="858" y="629.6" width="5.2" height="4.4" rx="1.6" fill="#e81010"/>
<rect x="865" y="629.6" width="5.2" height="4.4" rx="1.6" fill="#e81010"/>
<rect x="872" y="629.6" width="5.2" height="4.4" rx="1.6" fill="#e81010"/>
<text x="795.6" y="646.4" font-size="5.4" fill="#9c9c9c">A</text>
<text x="807.2" y="646.4" font-size="5.4" fill="#9c9c9c">B</text>
<text x="818.9" y="646.4" font-size="5.4" fill="#9c9c9c">C</text>
<text x="831.1" y="646.4" font-size="5.4" fill="#9c9c9c">D</text>
<circle cx="862.6" cy="644.4" r="2.1" fill="none" stroke="#8c8c8c" stroke-width="0.7"/>
<path d="M873.8 646.3l2.6 -3.8l2.6 3.8z" fill="none" stroke="#8c8c8c" stroke-width="0.7"/>
<text x="796.1" y="662.4" font-size="8.4" font-weight="bold" fill="#e2e2e2">1</text>
<text x="821" y="662.4" font-size="8.4" font-weight="bold" fill="#e2e2e2">2</text>
<text x="845.4" y="662.4" font-size="8.4" font-weight="bold" fill="#e2e2e2">3</text>
<text x="796.1" y="678.4" font-size="8.4" font-weight="bold" fill="#e2e2e2">4</text>
<text x="821" y="678.4" font-size="8.4" font-weight="bold" fill="#e2e2e2">5</text>
<text x="845.4" y="678.4" font-size="8.4" font-weight="bold" fill="#e2e2e2">6</text>
<text x="796.1" y="694.5" font-size="8.4" font-weight="bold" fill="#e2e2e2">7</text>
<text x="821" y="694.5" font-size="8.4" font-weight="bold" fill="#e2e2e2">8</text>
<text x="845.4" y="694.5" font-size="8.4" font-weight="bold" fill="#e2e2e2">9</text>
<text x="796.8" y="711.4" font-size="8.4" font-weight="bold" fill="#e2e2e2">*</text>
<text x="821" y="709.8" font-size="8.4" font-weight="bold" fill="#e2e2e2">0</text>
<text x="845.4" y="709.8" font-size="8.4" fill="#e2e2e2">#</text>
<rect x="867.8" y="665.9" width="15.4" height="0.9" fill="#bdbdbd"/>
<rect x="867.8" y="669.8" width="15.4" height="0.9" fill="#bdbdbd"/>
<rect x="867.8" y="673.3" width="15.4" height="0.9" fill="#bdbdbd"/>
<circle cx="875.9" cy="697.5" r="8" fill="none" stroke="#8a8a8a" stroke-width="0.7"/>
<circle cx="875.9" cy="697.5" r="6.3" fill="none" stroke="#777" stroke-width="0.5" stroke-dasharray="0.8 0.8"/>
<path d="M872.6 694.2l5.6 6.6M873.4 698.2a3 3 0 0 1 4 -3.6" fill="none" stroke="#8a8a8a" stroke-width="0.8"/>
<text x="603" y="769.5" font-size="31.9" fill="#1673c0" stroke="#1673c0" stroke-width="0.5" stroke-linejoin="round">警云报警视频一体机</text>
<rect x="638.5" y="803.3" width="210" height="46" rx="23" fill="#f2f2f2" stroke="#d2d2d2" stroke-width="1.6"/>
<text x="680.5" y="835.3" font-size="23.7" fill="#404040" textLength="136" lengthAdjust="spacing">CN6808–4G</text>
<rect x="789.7" y="216.9" width="100.6" height="101.3" rx="2" fill="url(#eb)" stroke="#ededed" stroke-width="1"/>
<rect x="791" y="218.2" width="8.5" height="98.8" fill="#f1f1f1"/>
<rect x="880.5" y="218.2" width="8.5" height="98.8" fill="#f3f3f3"/>
<rect x="791" y="310.5" width="98" height="6.5" fill="#f9f9f9"/>
<rect x="807.4" y="224.5" width="67" height="85.7" rx="5" fill="#f7f7f7" stroke="#e9e9e9" stroke-width="1"/>
<circle cx="840.5" cy="268" r="11.6" fill="url(#rb)"/>
<circle cx="840.5" cy="267.5" r="6.2" fill="none" stroke="#e2606a" stroke-width="0.6" opacity="0.8"/>
<circle cx="840.5" cy="267.5" r="3.6" fill="none" stroke="#e2606a" stroke-width="0.6" opacity="0.8"/>
<circle cx="840.2" cy="286.8" r="2" fill="#1a1a1a"/>
<path d="M839.3 287.5l-0.5 6.3h2.8l-0.5 -6.3z" fill="#1a1a1a"/>
<rect x="1553" y="8.8" width="116" height="193.2" rx="1.5" fill="url(#ic)" stroke="#d0d0d0" stroke-width="1"/>
<rect x="1554" y="200" width="114" height="2" fill="#cfcfcf"/>
<rect x="1582" y="9.8" width="0.8" height="190.2" fill="#d6d6d6" opacity="0.28"/>
<rect x="1599.6" y="9.8" width="0.8" height="190.2" fill="#ffffff" opacity="0.30"/>
<rect x="1563.3" y="9.8" width="0.8" height="190.2" fill="#d6d6d6" opacity="0.37"/>
<rect x="1657" y="9.8" width="0.8" height="190.2" fill="#ffffff" opacity="0.49"/>
<rect x="1640.2" y="9.8" width="0.8" height="190.2" fill="#d6d6d6" opacity="0.32"/>
<rect x="1615" y="9.8" width="0.8" height="190.2" fill="#ffffff" opacity="0.33"/>
<rect x="1575" y="9.8" width="0.8" height="190.2" fill="#d6d6d6" opacity="0.28"/>
<rect x="1579.6" y="9.8" width="0.8" height="190.2" fill="#ffffff" opacity="0.53"/>
<rect x="1647.2" y="9.8" width="0.8" height="190.2" fill="#d6d6d6" opacity="0.49"/>
<rect x="1644" y="9.8" width="0.8" height="190.2" fill="#ffffff" opacity="0.31"/>
<rect x="1590.1" y="9.8" width="0.8" height="190.2" fill="#d6d6d6" opacity="0.44"/>
<rect x="1636.5" y="9.8" width="0.8" height="190.2" fill="#ffffff" opacity="0.51"/>
<rect x="1652.8" y="9.8" width="0.8" height="190.2" fill="#d6d6d6" opacity="0.28"/>
<rect x="1622.6" y="9.8" width="0.8" height="190.2" fill="#ffffff" opacity="0.45"/>
<rect x="1611.7" y="9.8" width="0.8" height="190.2" fill="#d6d6d6" opacity="0.30"/>
<rect x="1608.1" y="9.8" width="0.8" height="190.2" fill="#ffffff" opacity="0.28"/>
<rect x="1658.8" y="9.8" width="0.8" height="190.2" fill="#d6d6d6" opacity="0.51"/>
<rect x="1616.2" y="9.8" width="0.8" height="190.2" fill="#ffffff" opacity="0.34"/>
<rect x="1656" y="9.8" width="0.8" height="190.2" fill="#d6d6d6" opacity="0.42"/>
<rect x="1653.1" y="9.8" width="0.8" height="190.2" fill="#ffffff" opacity="0.50"/>
<rect x="1611.9" y="9.8" width="0.8" height="190.2" fill="#d6d6d6" opacity="0.37"/>
<rect x="1621.9" y="9.8" width="0.8" height="190.2" fill="#ffffff" opacity="0.38"/>
<circle cx="1611.2" cy="43.8" r="22.5" fill="#0d0d0f"/>
<circle cx="1611.2" cy="44" r="5" fill="#1a1512" stroke="#5a4a3a" stroke-width="0.9"/>
<circle cx="1611" cy="43.4" r="1.2" fill="#666"/>
<circle cx="1629" cy="43.8" r="1.2" fill="#c0a86e"/>
<circle cx="1623.8" cy="56.4" r="1.2" fill="#c0a86e"/>
<circle cx="1611.2" cy="61.6" r="1.2" fill="#c0a86e"/>
<circle cx="1598.6" cy="56.4" r="1.2" fill="#c0a86e"/>
<circle cx="1593.4" cy="43.8" r="1.2" fill="#c0a86e"/>
<circle cx="1598.6" cy="31.2" r="1.2" fill="#c0a86e"/>
<circle cx="1611.2" cy="26" r="1.2" fill="#c0a86e"/>
<circle cx="1623.8" cy="31.2" r="1.2" fill="#c0a86e"/>
<circle cx="1600.5" cy="80.5" r="1.1" fill="#7c7c7c"/>
<circle cx="1607.8" cy="80.5" r="1.1" fill="#7c7c7c"/>
<circle cx="1615.2" cy="80.5" r="1.1" fill="#7c7c7c"/>
<circle cx="1622.5" cy="80.5" r="1.1" fill="#7c7c7c"/>
<circle cx="1596.9" cy="87" r="1.1" fill="#7c7c7c"/>
<circle cx="1604.2" cy="87" r="1.1" fill="#7c7c7c"/>
<circle cx="1611.5" cy="87" r="1.1" fill="#7c7c7c"/>
<circle cx="1618.8" cy="87" r="1.1" fill="#7c7c7c"/>
<circle cx="1626.1" cy="87" r="1.1" fill="#7c7c7c"/>
<circle cx="1593.2" cy="93.5" r="1.1" fill="#7c7c7c"/>
<circle cx="1600.5" cy="93.5" r="1.1" fill="#7c7c7c"/>
<circle cx="1607.8" cy="93.5" r="1.1" fill="#7c7c7c"/>
<circle cx="1615.2" cy="93.5" r="1.1" fill="#7c7c7c"/>
<circle cx="1622.5" cy="93.5" r="1.1" fill="#7c7c7c"/>
<circle cx="1629.8" cy="93.5" r="1.1" fill="#7c7c7c"/>
<circle cx="1589.6" cy="100.2" r="1.1" fill="#7c7c7c"/>
<circle cx="1596.9" cy="100.2" r="1.1" fill="#7c7c7c"/>
<circle cx="1604.2" cy="100.2" r="1.1" fill="#7c7c7c"/>
<circle cx="1611.5" cy="100.2" r="1.1" fill="#7c7c7c"/>
<circle cx="1618.8" cy="100.2" r="1.1" fill="#7c7c7c"/>
<circle cx="1626.1" cy="100.2" r="1.1" fill="#7c7c7c"/>
<circle cx="1633.4" cy="100.2" r="1.1" fill="#7c7c7c"/>
<circle cx="1593.2" cy="106.8" r="1.1" fill="#7c7c7c"/>
<circle cx="1600.5" cy="106.8" r="1.1" fill="#7c7c7c"/>
<circle cx="1607.8" cy="106.8" r="1.1" fill="#7c7c7c"/>
<circle cx="1615.2" cy="106.8" r="1.1" fill="#7c7c7c"/>
<circle cx="1622.5" cy="106.8" r="1.1" fill="#7c7c7c"/>
<circle cx="1629.8" cy="106.8" r="1.1" fill="#7c7c7c"/>
<circle cx="1596.9" cy="113.4" r="1.1" fill="#7c7c7c"/>
<circle cx="1604.2" cy="113.4" r="1.1" fill="#7c7c7c"/>
<circle cx="1611.5" cy="113.4" r="1.1" fill="#7c7c7c"/>
<circle cx="1618.8" cy="113.4" r="1.1" fill="#7c7c7c"/>
<circle cx="1626.1" cy="113.4" r="1.1" fill="#7c7c7c"/>
<circle cx="1600.5" cy="120" r="1.1" fill="#7c7c7c"/>
<circle cx="1607.8" cy="120" r="1.1" fill="#7c7c7c"/>
<circle cx="1615.2" cy="120" r="1.1" fill="#7c7c7c"/>
<circle cx="1622.5" cy="120" r="1.1" fill="#7c7c7c"/>
<text x="1605.4" y="140.5" font-size="6" font-weight="bold" fill="#d8232a">报警</text>
<rect x="1606.5" y="143.4" width="10" height="1.3" fill="#d8232a" opacity="0.8"/>
<circle cx="1611.5" cy="166.7" r="13.4" fill="#f4f4f4" stroke="#d8433a" stroke-width="1.2"/>
<circle cx="1611.5" cy="166.7" r="10.8" fill="url(#ib)"/>
<circle cx="1611.5" cy="166.7" r="8" fill="none" stroke="#ffd0c0" stroke-width="0.8" opacity="0.7"/>
<circle cx="1562.2" cy="17.4" r="1.7" fill="#777"/>
<circle cx="1562.2" cy="17.4" r="0.7" fill="#ccc"/>
<circle cx="1658.8" cy="16.8" r="1.7" fill="#777"/>
<circle cx="1658.8" cy="16.8" r="0.7" fill="#ccc"/>
<circle cx="1562.2" cy="193.2" r="1.7" fill="#777"/>
<circle cx="1562.2" cy="193.2" r="0.7" fill="#ccc"/>
<circle cx="1658.8" cy="193.2" r="1.7" fill="#777"/>
<circle cx="1658.8" cy="193.2" r="0.7" fill="#ccc"/>
<circle cx="1611.5" cy="188" r="0.5" fill="#888"/>
<circle cx="1611.5" cy="192.8" r="0.5" fill="#888"/>
<circle cx="1609.1" cy="190.4" r="0.5" fill="#888"/>
<circle cx="1613.9" cy="190.4" r="0.5" fill="#888"/>
<circle cx="1611.5" cy="190.4" r="0.5" fill="#888"/>
<polygon points="1108,185 1116,180.5 1121,188 1112.5,193.5" fill="#f2f2f2" stroke="#cfcfcf" stroke-width="0.6"/>
<ellipse cx="1114.8" cy="187.6" rx="2" ry="1.3" fill="#bbb"/>
<polygon points="1160,143.5 1166.5,139.5 1171.5,146 1164.5,150.5" fill="#f2f2f2" stroke="#cfcfcf" stroke-width="0.6"/>
<ellipse cx="1166" cy="145.2" rx="2" ry="1.3" fill="#bbb"/>
<polygon points="1103.6,184.3 1181,126 1181,133 1110,187.5" fill="#c9c9c9"/>
<polygon points="1096.1,168.2 1180.7,117.9 1181,126.5 1104,184.6" fill="url(#ds)"/>
<polygon points="1072.5,152.1 1096.1,168.2 1104,184.6 1080,175.7" fill="#ececec" stroke="#d0d0d0" stroke-width="0.5"/>
<polygon points="1072.5,152.1 1144.3,103.9 1180.7,117.9 1096.1,168.2" fill="#fafafa" stroke="#dcdcdc" stroke-width="0.8" stroke-linejoin="round"/>
<polygon points="1080.5,152.2 1144.5,108.8 1172.5,119 1097.6,163.6" fill="none" stroke="#e4e4e4" stroke-width="0.8"/>
<polygon points="1097.6,142.5 1140,113.1 1165.7,118.9 1106.8,153.2" fill="url(#dg)" stroke="#8a8f88" stroke-width="0.6"/>
<polygon points="1145.4,110.6 1158.2,113.8 1156.6,116.8 1143.8,113.4" fill="#d8282c"/>
<circle cx="1139" cy="121" r="0.9" fill="#f4f4e0"/>
<polygon points="1087.5,151.1 1096.1,146.1 1101,154.3 1092.4,159.2" fill="#c8282c"/>
<g transform="rotate(35 1082 177)">
<rect x="1076" y="175" width="7" height="4" fill="#8c8a78"/>
<rect x="1074" y="174.4" width="2.6" height="5.2" fill="#b9b7a6"/>
<rect x="1079" y="174.4" width="1.6" height="5.2" fill="#5d5b4e"/>
</g>
<g transform="rotate(35 1087 183.5)">
<rect x="1081" y="181.5" width="7" height="4" fill="#8c8a78"/>
<rect x="1079" y="180.9" width="2.6" height="5.2" fill="#b9b7a6"/>
<rect x="1084" y="180.9" width="1.6" height="5.2" fill="#5d5b4e"/>
</g>
<path d="M1070 150.5l7 -3.2M1080.5 160.5l3.4 2.2" fill="none" stroke="#777" stroke-width="1.3"/>
<circle cx="1083" cy="163.2" r="1.6" fill="#999" stroke="#666" stroke-width="0.5"/>
<rect x="1460.8" y="462.3" width="8" height="2" fill="#3a3a3a"/>
<rect x="1460.8" y="462.3" width="2" height="6" fill="#3a3a3a"/>
<rect x="1460.8" y="467" width="8" height="1.8" fill="#444"/>
<rect x="1483" y="488" width="6.4" height="6" fill="#8e1a1e"/>
<rect x="1482.4" y="493" width="7.6" height="3.6" fill="#6a5a3a"/>
<rect x="1483.4" y="496" width="5.4" height="4" fill="#a89a72"/>
<rect x="1499" y="488" width="6.4" height="6" fill="#8e1a1e"/>
<rect x="1498.4" y="493" width="7.6" height="3.6" fill="#6a5a3a"/>
<rect x="1499.4" y="496" width="5.4" height="4" fill="#a89a72"/>
<path d="M1467.4 420q0 -8 5 -14.5l-2.5 80l-2.5 -4z" fill="#a3181d"/>
<path d="M1474.6 404.6l40 5.8q3 0.6 3 3.6v71q0 3.4 -3.4 3l-41.4 -2q-3.4 -0.4 -3.2 -3.6l1.6 -74q0.3 -4.2 3.4 -3.8z" fill="url(#rd)"/>
<path d="M1517.5 443q3.4 0.4 3.4 3.4t-3.4 3.4z" fill="#c42228"/>
<path d="M1488.2 420.7l27.9 3.2v46.1l-27.9 -2.1z" fill="#c9252a" stroke="#a1161b" stroke-width="0.9" stroke-linejoin="round"/>
<path d="M1489 421.5l26.4 3" fill="none" stroke="#ea5a55" stroke-width="0.8"/>
<path d="M1493.1 428.2l15.5 1.5v32.8l-15.5 -1.1z" fill="#b9bbc2" stroke="#8f1419" stroke-width="1.1" stroke-linejoin="round"/>
<ellipse cx="1500.9" cy="437.6" rx="6.2" ry="7.2" fill="#8d9099"/>
<ellipse cx="1500.9" cy="453.2" rx="6.2" ry="7.2" fill="#8d9099"/>
<rect x="1494" y="444.6" width="13.8" height="1.5" fill="#c9cbd0"/>
<rect x="1494.4" y="420.6" width="9.6" height="2.2" fill="#e8b43a" transform="rotate(6 1499 421.6)"/>
<circle cx="1476.6" cy="408.4" r="0.9" fill="#f0b0a8"/>
<circle cx="1512.4" cy="413" r="0.9" fill="#f0b0a8"/>
<circle cx="1473.4" cy="446.8" r="0.9" fill="#f0b0a8"/>
<circle cx="1474.6" cy="482.4" r="0.9" fill="#f0b0a8"/>
<circle cx="1513.4" cy="484.6" r="0.9" fill="#f0b0a8"/>
<path d="M940 757.3H1361" stroke="#4d4d4d" stroke-width="1.1" stroke-dasharray="4.6 3.1" fill="none"/>
<polygon points="1360.5,747.8 1376.2,757.3 1360.5,766.5" fill="#4d4d4d"/>
<circle cx="1163.4" cy="806.5" r="24.6" fill="#0470b9"/>
<circle cx="1220.3" cy="806.5" r="24.6" fill="#ee7d00"/>
<text x="1144.5" y="817.2" font-size="30" font-weight="bold" font-style="italic" fill="#fff">4</text>
<text x="1160.8" y="814.9" font-size="23.5" font-weight="bold" font-style="italic" fill="#fff" textLength="15.5" lengthAdjust="spacingAndGlyphs">G</text>
<text x="1205.4" y="817.2" font-size="30" font-weight="bold" font-style="italic" fill="#fff">IP</text>
<rect x="1428.1" y="716.1" width="82.7" height="60" rx="6.3" fill="#dcdcdc"/>
<rect x="1434" y="721.8" width="70.7" height="42.1" rx="1.5" fill="#fff"/>
<circle cx="1469.4" cy="769.9" r="3.1" fill="#fff"/>
<rect x="1463.5" y="776" width="12" height="8.4" fill="#dcdcdc"/>
<path d="M1445.1 789.6v-3.4q0 -2.4 2.4 -2.4h44.1q2.4 0 2.4 2.4v3.4z" fill="#dcdcdc"/>
<path d="M1469.2 730.7q3.4 0.2 6.2 3q3.2 2.2 7 2.2q3 0.2 2.8 1.8q-1.6 5 -5.6 9.2q-10.4 3 -20.8 0q-4 -4.2 -5.6 -9.2q-0.2 -1.6 2.8 -1.8q3.8 0 7 -2.2q2.8 -2.8 6.2 -3z" fill="#ee7d00"/>
<ellipse cx="1468.9" cy="741" rx="3.5" ry="4.7" fill="#fff"/>
<path d="M1456.6 750.4q12.6 3.6 25.2 0q-1.4 3.6 -5.4 5.6q-7.2 1.6 -14.4 0q-4 -2 -5.4 -5.6z" fill="#ee7d00"/>
<rect x="1556.1" y="710.2" width="53.7" height="87.4" rx="2.2" fill="#dcdcdc"/>
<rect x="1560.9" y="726" width="44.1" height="52.8" fill="#fff"/>
<rect x="1577" y="716.5" width="12.2" height="4.5" rx="2.2" fill="#fff"/>
<circle cx="1595" cy="718.7" r="2.1" fill="#fff"/>
<circle cx="1583" cy="788.6" r="4.8" fill="#fff"/>
<path d="M1583 737.1q-5.6 4.4 -12 4.2q-1.2 14.6 12 22.6q5.8 -3.4 9 -8.6l2.2 -9.8l-1.6 0q0.6 -2 0.4 -4.2q-5.6 0.2 -10 -4.2z" fill="#1a6fc0"/>
<path d="M1594.6 753.2q-4 2 -9.6 2.4q-6.6 0.4 -7.2 -5q-0.2 -5.4 5.2 -6.6q4.8 -0.6 6 3.2q0.8 3.2 -1.8 4.6q-2.6 1 -3.8 -0.8q-0.8 -1.6 0.6 -2.4q-0.2 1.4 1.2 1.6q2 0 2 -2.2q-0.4 -2.8 -3.8 -2.2q-3.6 1 -3.2 4.8q0.8 3.8 5.4 3.4q5 -0.6 9.6 -2.6z" fill="#fff"/>
<path d="M1586 756.2q7 -0.8 13.6 -4q-5.6 1.8 -13 2.4z" fill="#1a6fc0"/>
<path d="M1595.8 748.4l3.2 1.5l-3.2 1.7M1598.8 747.4l3 2.5l-3 2.7" fill="none" stroke="#1a6fc0" stroke-width="0.7"/>
<rect x="1676.1" y="712.2" width="52.8" height="87.4" rx="2.2" fill="#dcdcdc"/>
<rect x="1680.7" y="727.9" width="43.4" height="53.1" fill="#fff"/>
<rect x="1696.3" y="718.4" width="12.4" height="4.5" rx="2.2" fill="#fff"/>
<circle cx="1714.2" cy="720.6" r="2.1" fill="#fff"/>
<circle cx="1702.4" cy="790.4" r="4.8" fill="#fff"/>
<path d="M1689.6 757.6l-0.2 3.2l3.6 -1.8z" fill="#09a93b"/>
<ellipse cx="1697.6" cy="749.2" rx="11.6" ry="9.5" fill="#09a93b"/>
<path d="M1689.4 756.4l-1.2 4.6l5 -2.6z" fill="#09a93b"/>
<ellipse cx="1708.7" cy="756.9" rx="11.2" ry="9.4" fill="#fff"/>
<ellipse cx="1708.7" cy="756.9" rx="10.1" ry="8.4" fill="#09a93b"/>
<path d="M1713.6 763.6l2.8 2.8l-0.6 -3.8z" fill="#09a93b"/>
<circle cx="1693.6" cy="746.4" r="1.5" fill="#fff"/>
<circle cx="1701.4" cy="746.4" r="1.5" fill="#fff"/>
<circle cx="1705.2" cy="754.6" r="1.3" fill="#fff"/>
<circle cx="1712" cy="754.6" r="1.3" fill="#fff"/>
<path d="M271.5 150V111.3H940.5V300" stroke="#1673c4" stroke-width="1.05" stroke-dasharray="5.6 3.3" fill="none"/>
<path d="M398 249.3H679.3V404" stroke="#c8141a" stroke-width="1.05" stroke-dasharray="4.6 3" fill="none"/>
<path d="M346.9 479.7H588" stroke="#c8141a" stroke-width="1.05" stroke-dasharray="4.6 3" fill="none"/>
<path d="M1360.6 230V94.3H1516" stroke="#1673c4" stroke-width="1.05" stroke-dasharray="5.6 3.3" fill="none"/>
<path d="M1301.4 333V645H948" stroke="#1673c4" stroke-width="1.05" stroke-dasharray="5.6 3.3" fill="none"/>
<circle cx="389.5" cy="249.3" r="7.8" fill="#c40000"/>
<circle cx="334.7" cy="479.3" r="7.8" fill="#c40000"/>
<circle cx="940.5" cy="307" r="8" fill="#0b6bbf"/>
<circle cx="1360.6" cy="237.1" r="8" fill="#0b6bbf"/>
<circle cx="1301.4" cy="325.4" r="8" fill="#0b6bbf"/>
<text y="346.3" font-size="26.4" fill="#0b69b7" stroke="#0b69b7" stroke-width="0.3" stroke-linejoin="round"><tspan x="126.3">可接</tspan><tspan x="189.6">4</tspan><tspan x="213.4">路网络摄像机</tspan></text>
<text x="202.2" y="451.4" font-size="26.8" fill="#0b69b7" stroke="#0b69b7" stroke-width="0.3" stroke-linejoin="round">红外对射</text>
<text x="123.6" y="815.6" font-size="26.6" fill="#383838">储油库周界防护系统</text>
<text x="798.8" y="358.4" font-size="23.8" fill="#484848">紧急按钮</text>
<text x="1092.4" y="226.9" font-size="24" fill="#3a3a3a">防爆对射</text>
<text x="1522.2" y="257" font-size="24" fill="#222">一键报警对讲设备</text>
<text x="1452.4" y="535.9" font-size="24" fill="#333">防爆红外</text>
<text x="1432.2" y="838.5" font-size="23.8" fill="#404040">警云PC</text>
<text x="1534" y="838.5" font-size="23.8" fill="#404040">警云APP</text>
<text x="1653.2" y="835.8" font-size="23.8" fill="#404040">警云公众号</text></svg>
</body></html>
